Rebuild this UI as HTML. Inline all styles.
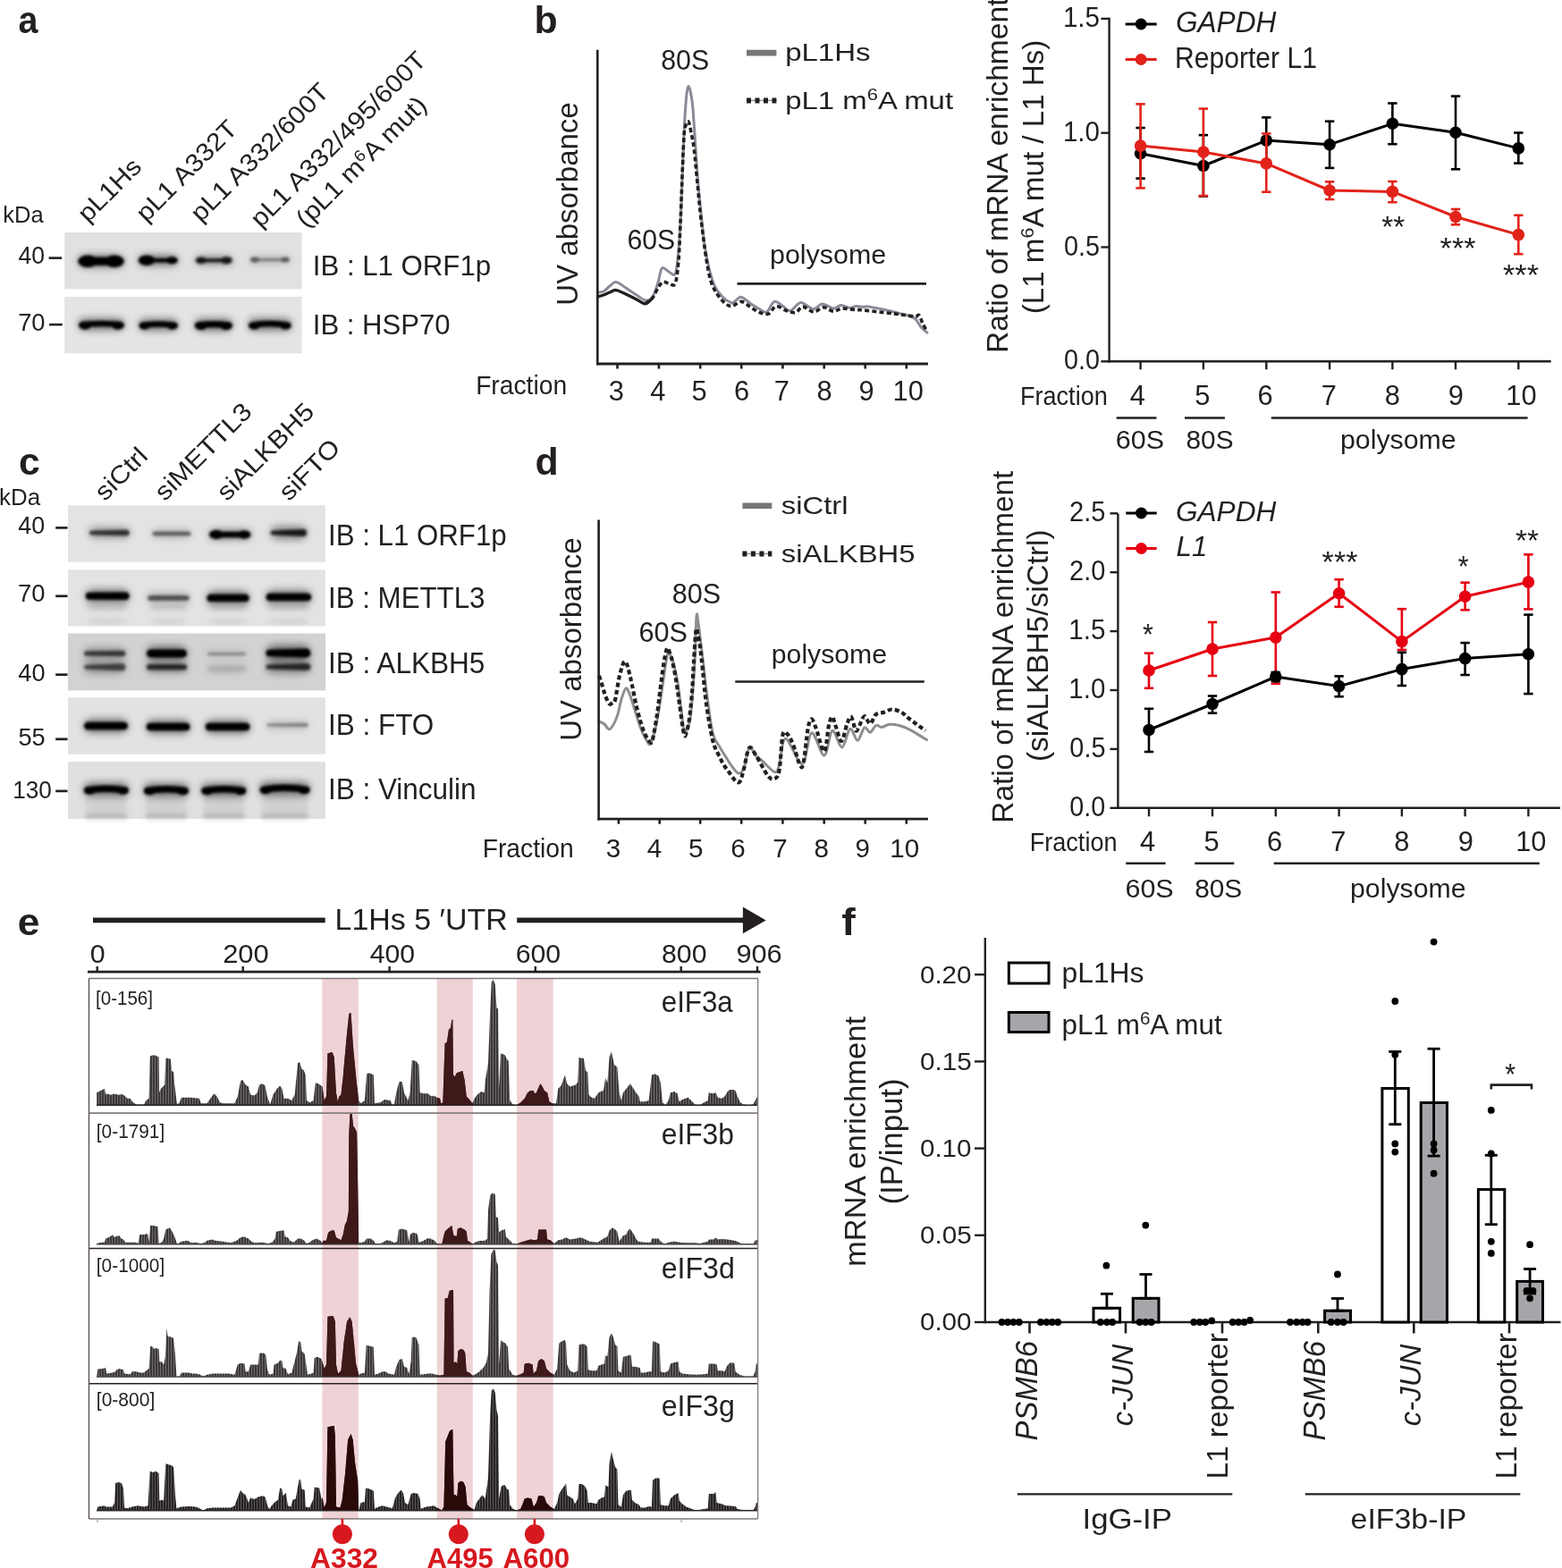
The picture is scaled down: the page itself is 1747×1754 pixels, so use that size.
<!DOCTYPE html>
<html><head><meta charset="utf-8"><title>Figure</title>
<style>html,body{margin:0;padding:0;background:#fff;}body{width:1747px;height:1754px;overflow:hidden;}</style>
</head><body><svg width="1747" height="1754" viewBox="0 0 1747 1754" style="display:block;font-family:&quot;Liberation Sans&quot;, Arial, sans-serif"><defs>
<filter id="bl2" x="-20%" y="-50%" width="140%" height="200%"><feGaussianBlur stdDeviation="1.6"/></filter>
<filter id="bl3" x="-20%" y="-80%" width="140%" height="260%"><feGaussianBlur stdDeviation="2.6"/></filter>
<filter id="bl5" x="-20%" y="-80%" width="140%" height="260%"><feGaussianBlur stdDeviation="4"/></filter>
<filter id="bl6" x="-30%" y="-150%" width="160%" height="400%"><feGaussianBlur stdDeviation="4.5"/></filter>
<pattern id="hat" width="3" height="10" patternUnits="userSpaceOnUse"><rect width="3" height="10" fill="#767272"/><rect width="2.1" height="10" fill="#3b3737"/></pattern>
<pattern id="hat4" width="3" height="10" patternUnits="userSpaceOnUse"><rect width="3" height="10" fill="#5f5c5c"/><rect width="2.1" height="10" fill="#272323"/></pattern>
<clipPath id="trk"><rect x="100" y="1095" width="747" height="604"/></clipPath>
</defs>
<text x="20.62" y="36.50" style="font-size:42.00px;font-weight:bold;" fill="#231f20" textLength="21.94" lengthAdjust="spacingAndGlyphs">a</text>
<text x="597.42" y="37.30" style="font-size:41.60px;font-weight:bold;" fill="#231f20" textLength="26.13" lengthAdjust="spacingAndGlyphs">b</text>
<text x="20.99" y="530.60" style="font-size:42.00px;font-weight:bold;" fill="#231f20" textLength="23.74" lengthAdjust="spacingAndGlyphs">c</text>
<text x="598.49" y="530.60" style="font-size:41.60px;font-weight:bold;" fill="#231f20" textLength="26.13" lengthAdjust="spacingAndGlyphs">d</text>
<text x="19.83" y="1045.60" style="font-size:42.00px;font-weight:bold;" fill="#231f20" textLength="24.68" lengthAdjust="spacingAndGlyphs">e</text>
<text x="941.20" y="1046.30" style="font-size:41.60px;font-weight:bold;" fill="#231f20" textLength="15.51" lengthAdjust="spacingAndGlyphs">f</text>
<text x="97.63" y="248.60" style="font-size:28.00px;" fill="#231f20" textLength="87.41" lengthAdjust="spacingAndGlyphs" transform="rotate(-45.00 99.60 248.60)">pL1Hs</text>
<text x="162.93" y="248.00" style="font-size:28.00px;" fill="#231f20" textLength="146.29" lengthAdjust="spacingAndGlyphs" transform="rotate(-45.00 164.90 248.00)">pL1 A332T</text>
<text x="224.03" y="248.00" style="font-size:28.00px;" fill="#231f20" textLength="205.15" lengthAdjust="spacingAndGlyphs" transform="rotate(-45.00 226.00 248.00)">pL1 A332/600T</text>
<text x="291.03" y="254.40" style="font-size:28.00px;" fill="#231f20" textLength="264.00" lengthAdjust="spacingAndGlyphs" transform="rotate(-45.00 293.00 254.40)">pL1 A332/495/600T</text>
<text x="341.73" y="254.50" style="font-size:28.00px;" fill="#231f20" textLength="193.37" lengthAdjust="spacingAndGlyphs" transform="rotate(-45.00 343.50 254.50)">(pL1 m<tspan dy="-9" style="font-size:18px">6</tspan><tspan dy="9">A mut)</tspan></text>
<text x="3.34" y="249.20" style="font-size:26.00px;" fill="#231f20" textLength="45.45" lengthAdjust="spacingAndGlyphs">kDa</text>
<rect x="72.20" y="260.10" width="265.30" height="63.30" fill="#e1e1e1"/>
<rect x="72.20" y="331.90" width="265.30" height="63.30" fill="#e4e4e4"/>
<g filter="url(#bl6)" opacity="0.50"><rect x="87.40" y="285.40" width="51.30" height="13.60" rx="6.80" fill="#000"/></g><g filter="url(#bl2)" opacity="1.00"><ellipse cx="98.28" cy="292.20" rx="10.88" ry="6.80" fill="#000"/><ellipse cx="127.82" cy="292.20" rx="10.88" ry="6.80" fill="#000"/><rect x="98.28" y="287.60" width="29.54" height="9.20" fill="#000"/></g>
<g filter="url(#bl6)" opacity="0.50"><rect x="154.80" y="285.40" width="44.00" height="11.60" rx="5.80" fill="#000"/></g><g filter="url(#bl2)" opacity="1.00"><ellipse cx="164.08" cy="291.20" rx="9.28" ry="5.80" fill="#000"/><ellipse cx="192.40" cy="291.20" rx="6.40" ry="4.00" fill="#000"/><rect x="164.08" y="289.00" width="28.32" height="4.40" fill="#000"/></g>
<g filter="url(#bl6)" opacity="0.47"><rect x="218.90" y="287.20" width="40.80" height="8.00" rx="4.00" fill="#111"/></g><g filter="url(#bl2)" opacity="0.95"><ellipse cx="224.98" cy="291.20" rx="6.08" ry="3.80" fill="#111"/><ellipse cx="253.30" cy="291.20" rx="6.40" ry="4.00" fill="#111"/><rect x="224.98" y="289.20" width="28.32" height="4.00" fill="#111"/></g>
<g filter="url(#bl6)" opacity="0.35"><rect x="279.80" y="287.40" width="44.10" height="6.40" rx="3.20" fill="#333"/></g><g filter="url(#bl2)" opacity="0.70"><ellipse cx="284.92" cy="290.60" rx="5.12" ry="3.20" fill="#333"/><ellipse cx="319.10" cy="290.60" rx="4.80" ry="3.00" fill="#333"/><rect x="284.92" y="289.60" width="34.18" height="2.00" fill="#333"/></g>
<g filter="url(#bl6)" opacity="0.50"><rect x="88.20" y="356.15" width="50.50" height="13.20" rx="5.85" fill="#000"/></g><g filter="url(#bl2)" opacity="1.00"><path d="M91.45 363.50 Q113.45 360.50 135.45 363.50" stroke="#000" stroke-width="6.50" fill="none" stroke-linecap="round"/><ellipse cx="94.95" cy="364.00" rx="6.75" ry="4.50" fill="#000"/><ellipse cx="131.95" cy="364.00" rx="6.75" ry="4.50" fill="#000"/></g>
<g filter="url(#bl6)" opacity="0.50"><rect x="155.60" y="356.65" width="43.20" height="13.20" rx="5.85" fill="#000"/></g><g filter="url(#bl2)" opacity="1.00"><path d="M158.85 364.00 Q177.20 361.00 195.55 364.00" stroke="#000" stroke-width="6.50" fill="none" stroke-linecap="round"/><ellipse cx="161.60" cy="364.50" rx="6.00" ry="4.00" fill="#000"/><ellipse cx="192.80" cy="364.50" rx="6.00" ry="4.00" fill="#000"/></g>
<g filter="url(#bl6)" opacity="0.50"><rect x="218.00" y="356.50" width="41.70" height="13.80" rx="6.30" fill="#000"/></g><g filter="url(#bl2)" opacity="1.00"><path d="M221.50 364.00 Q238.85 361.60 256.20 364.00" stroke="#000" stroke-width="7.00" fill="none" stroke-linecap="round"/><ellipse cx="224.75" cy="364.50" rx="6.75" ry="4.50" fill="#000"/><ellipse cx="252.95" cy="364.50" rx="6.75" ry="4.50" fill="#000"/></g>
<g filter="url(#bl6)" opacity="0.50"><rect x="278.20" y="356.15" width="47.30" height="13.70" rx="5.85" fill="#000"/></g><g filter="url(#bl2)" opacity="1.00"><path d="M281.45 364.00 Q301.85 360.00 322.25 364.00" stroke="#000" stroke-width="6.50" fill="none" stroke-linecap="round"/><ellipse cx="284.20" cy="364.50" rx="6.00" ry="4.00" fill="#000"/><ellipse cx="319.50" cy="364.50" rx="6.00" ry="4.00" fill="#000"/></g>
<text x="20.47" y="294.60" style="font-size:27.40px;" fill="#231f20" textLength="29.52" lengthAdjust="spacingAndGlyphs">40</text>
<line x1="54.60" y1="288.60" x2="69.20" y2="288.60" stroke="#231f20" stroke-width="2.60"/>
<text x="20.13" y="370.00" style="font-size:27.40px;" fill="#231f20" textLength="30.39" lengthAdjust="spacingAndGlyphs">70</text>
<line x1="55.00" y1="363.10" x2="69.70" y2="363.10" stroke="#231f20" stroke-width="2.60"/>
<text x="349.79" y="307.80" style="font-size:32.20px;" fill="#231f20" textLength="199.30" lengthAdjust="spacingAndGlyphs">IB : L1 ORF1p</text>
<text x="349.80" y="374.00" style="font-size:32.00px;" fill="#231f20" textLength="153.85" lengthAdjust="spacingAndGlyphs">IB : HSP70</text>
<text x="117.08" y="560.80" style="font-size:28.00px;" fill="#231f20" textLength="70.14" lengthAdjust="spacingAndGlyphs" transform="rotate(-45.00 118.00 560.80)">siCtrl</text>
<text x="183.98" y="560.80" style="font-size:28.00px;" fill="#231f20" textLength="140.33" lengthAdjust="spacingAndGlyphs" transform="rotate(-45.00 184.90 560.80)">siMETTL3</text>
<text x="253.58" y="560.80" style="font-size:28.00px;" fill="#231f20" textLength="140.38" lengthAdjust="spacingAndGlyphs" transform="rotate(-45.00 254.50 560.80)">siALKBH5</text>
<text x="323.08" y="560.80" style="font-size:28.00px;" fill="#231f20" textLength="83.27" lengthAdjust="spacingAndGlyphs" transform="rotate(-45.00 324.00 560.80)">siFTO</text>
<text x="-0.98" y="564.70" style="font-size:25.50px;" fill="#231f20" textLength="46.07" lengthAdjust="spacingAndGlyphs">kDa</text>
<rect x="76.00" y="565.20" width="288.00" height="63.50" fill="#e3e3e3"/>
<rect x="76.00" y="637.30" width="288.00" height="63.20" fill="#e3e3e3"/>
<rect x="76.00" y="708.50" width="288.00" height="63.90" fill="#d2d2d2"/>
<rect x="76.00" y="780.30" width="288.00" height="63.50" fill="#e2e2e2"/>
<rect x="76.00" y="852.10" width="288.00" height="63.90" fill="#e0e0e0"/>
<g filter="url(#bl6)" opacity="0.42"><rect x="100.00" y="590.15" width="44.70" height="11.70" rx="5.85" fill="#1a1a1a"/></g><g filter="url(#bl2)" opacity="0.85"><path d="M102.25 593.75 L141.45 592.75 A3.25 3.25 0 0 1 141.45 599.25 L102.25 598.25 A2.25 2.25 0 0 1 102.25 593.75 Z" fill="#1a1a1a"/></g>
<g filter="url(#bl6)" opacity="0.35"><rect x="170.50" y="592.95" width="42.90" height="8.10" rx="4.05" fill="#333"/></g><g filter="url(#bl2)" opacity="0.70"><path d="M172.75 594.75 L211.15 594.75 A2.25 2.25 0 0 1 211.15 599.25 L172.75 599.25 A2.25 2.25 0 0 1 172.75 594.75 Z" fill="#333"/></g>
<g filter="url(#bl6)" opacity="0.50"><rect x="234.00" y="593.00" width="46.40" height="10.00" rx="5.00" fill="#000"/></g><g filter="url(#bl2)" opacity="1.00"><ellipse cx="242.00" cy="598.00" rx="8.00" ry="5.00" fill="#000"/><ellipse cx="273.20" cy="598.00" rx="7.20" ry="4.50" fill="#000"/><rect x="242.00" y="594.80" width="31.20" height="6.40" fill="#000"/></g>
<g filter="url(#bl6)" opacity="0.45"><rect x="302.70" y="588.80" width="40.30" height="14.40" rx="7.20" fill="#111"/></g><g filter="url(#bl2)" opacity="0.90"><path d="M304.95 593.75 L339.00 592.00 A4.00 4.00 0 0 1 339.00 600.00 L304.95 598.25 A2.25 2.25 0 0 1 304.95 593.75 Z" fill="#111"/></g>
<g filter="url(#bl6)" opacity="0.50"><rect x="95.80" y="659.15" width="48.90" height="15.30" rx="7.65" fill="#000"/></g><g filter="url(#bl2)" opacity="1.00"><path d="M99.80 662.80 L140.45 662.55 A4.25 4.25 0 0 1 140.45 671.05 L99.80 670.80 A4.00 4.00 0 0 1 99.80 662.80 Z" fill="#000"/></g>
<g filter="url(#bl6)" opacity="0.35"><rect x="165.30" y="664.05" width="46.40" height="9.90" rx="4.95" fill="#222"/></g><g filter="url(#bl2)" opacity="0.70"><path d="M168.05 666.25 L208.95 666.25 A2.75 2.75 0 0 1 208.95 671.75 L168.05 671.75 A2.75 2.75 0 0 1 168.05 666.25 Z" fill="#222"/></g>
<g filter="url(#bl6)" opacity="0.50"><rect x="231.40" y="661.35" width="47.30" height="15.30" rx="7.65" fill="#000"/></g><g filter="url(#bl2)" opacity="1.00"><path d="M235.65 664.75 L274.45 664.75 A4.25 4.25 0 0 1 274.45 673.25 L235.65 673.25 A4.25 4.25 0 0 1 235.65 664.75 Z" fill="#000"/></g>
<g filter="url(#bl6)" opacity="0.50"><rect x="297.50" y="660.35" width="50.70" height="15.30" rx="7.65" fill="#000"/></g><g filter="url(#bl2)" opacity="1.00"><path d="M301.75 663.75 L343.95 663.75 A4.25 4.25 0 0 1 343.95 672.25 L301.75 672.25 A4.25 4.25 0 0 1 301.75 663.75 Z" fill="#000"/></g>
<g filter="url(#bl6)" opacity="0.17"><rect x="98.80" y="674.50" width="42.90" height="9.00" rx="4.50" fill="#999"/></g><g filter="url(#bl3)" opacity="0.35"><path d="M101.30 676.50 L139.20 676.50 A2.50 2.50 0 0 1 139.20 681.50 L101.30 681.50 A2.50 2.50 0 0 1 101.30 676.50 Z" fill="#999"/></g>
<g filter="url(#bl6)" opacity="0.12"><rect x="99.80" y="692.30" width="40.90" height="5.40" rx="2.70" fill="#999"/></g><g filter="url(#bl3)" opacity="0.25"><path d="M101.30 693.50 L139.20 693.50 A1.50 1.50 0 0 1 139.20 696.50 L101.30 696.50 A1.50 1.50 0 0 1 101.30 693.50 Z" fill="#999"/></g>
<g filter="url(#bl6)" opacity="0.17"><rect x="168.30" y="674.50" width="40.40" height="9.00" rx="4.50" fill="#999"/></g><g filter="url(#bl3)" opacity="0.35"><path d="M170.80 676.50 L206.20 676.50 A2.50 2.50 0 0 1 206.20 681.50 L170.80 681.50 A2.50 2.50 0 0 1 170.80 676.50 Z" fill="#999"/></g>
<g filter="url(#bl6)" opacity="0.12"><rect x="169.30" y="692.30" width="38.40" height="5.40" rx="2.70" fill="#999"/></g><g filter="url(#bl3)" opacity="0.25"><path d="M170.80 693.50 L206.20 693.50 A1.50 1.50 0 0 1 206.20 696.50 L170.80 696.50 A1.50 1.50 0 0 1 170.80 693.50 Z" fill="#999"/></g>
<g filter="url(#bl6)" opacity="0.17"><rect x="234.40" y="674.50" width="41.30" height="9.00" rx="4.50" fill="#999"/></g><g filter="url(#bl3)" opacity="0.35"><path d="M236.90 676.50 L273.20 676.50 A2.50 2.50 0 0 1 273.20 681.50 L236.90 681.50 A2.50 2.50 0 0 1 236.90 676.50 Z" fill="#999"/></g>
<g filter="url(#bl6)" opacity="0.12"><rect x="235.40" y="692.30" width="39.30" height="5.40" rx="2.70" fill="#999"/></g><g filter="url(#bl3)" opacity="0.25"><path d="M236.90 693.50 L273.20 693.50 A1.50 1.50 0 0 1 273.20 696.50 L236.90 696.50 A1.50 1.50 0 0 1 236.90 693.50 Z" fill="#999"/></g>
<g filter="url(#bl6)" opacity="0.17"><rect x="300.50" y="674.50" width="44.70" height="9.00" rx="4.50" fill="#999"/></g><g filter="url(#bl3)" opacity="0.35"><path d="M303.00 676.50 L342.70 676.50 A2.50 2.50 0 0 1 342.70 681.50 L303.00 681.50 A2.50 2.50 0 0 1 303.00 676.50 Z" fill="#999"/></g>
<g filter="url(#bl6)" opacity="0.12"><rect x="301.50" y="692.30" width="42.70" height="5.40" rx="2.70" fill="#999"/></g><g filter="url(#bl3)" opacity="0.25"><path d="M303.00 693.50 L342.70 693.50 A1.50 1.50 0 0 1 342.70 696.50 L303.00 696.50 A1.50 1.50 0 0 1 303.00 693.50 Z" fill="#999"/></g>
<g filter="url(#bl6)" opacity="0.40"><rect x="94.00" y="725.05" width="46.40" height="11.70" rx="5.85" fill="#222"/></g><g filter="url(#bl2)" opacity="0.80"><path d="M96.50 728.40 L137.15 727.65 A3.25 3.25 0 0 1 137.15 734.15 L96.50 733.40 A2.50 2.50 0 0 1 96.50 728.40 Z" fill="#222"/></g>
<g filter="url(#bl6)" opacity="0.38"><rect x="94.00" y="739.10" width="46.40" height="14.40" rx="7.20" fill="#222"/></g><g filter="url(#bl2)" opacity="0.75"><path d="M96.25 744.05 L136.40 742.30 A4.00 4.00 0 0 1 136.40 750.30 L96.25 748.55 A2.25 2.25 0 0 1 96.25 744.05 Z" fill="#222"/></g>
<g filter="url(#bl6)" opacity="0.50"><rect x="164.00" y="722.80" width="45.00" height="16.20" rx="8.10" fill="#000"/></g><g filter="url(#bl2)" opacity="1.00"><path d="M168.50 726.40 L204.50 726.40 A4.50 4.50 0 0 1 204.50 735.40 L168.50 735.40 A4.50 4.50 0 0 1 168.50 726.40 Z" fill="#000"/></g>
<g filter="url(#bl6)" opacity="0.40"><rect x="164.00" y="740.45" width="45.00" height="11.70" rx="5.85" fill="#111"/></g><g filter="url(#bl2)" opacity="0.80"><path d="M167.25 743.05 L205.75 743.05 A3.25 3.25 0 0 1 205.75 749.55 L167.25 749.55 A3.25 3.25 0 0 1 167.25 743.05 Z" fill="#111"/></g>
<g filter="url(#bl6)" opacity="0.25"><rect x="232.00" y="728.35" width="43.00" height="6.30" rx="3.15" fill="#555"/></g><g filter="url(#bl2)" opacity="0.50"><path d="M233.75 729.75 L273.25 729.75 A1.75 1.75 0 0 1 273.25 733.25 L233.75 733.25 A1.75 1.75 0 0 1 233.75 729.75 Z" fill="#555"/></g>
<g filter="url(#bl6)" opacity="0.17"><rect x="232.00" y="742.60" width="43.00" height="10.80" rx="5.40" fill="#777"/></g><g filter="url(#bl3)" opacity="0.35"><path d="M235.00 745.00 L272.00 745.00 A3.00 3.00 0 0 1 272.00 751.00 L235.00 751.00 A3.00 3.00 0 0 1 235.00 745.00 Z" fill="#777"/></g>
<g filter="url(#bl6)" opacity="0.50"><rect x="297.50" y="721.50" width="49.80" height="18.00" rx="9.00" fill="#000"/></g><g filter="url(#bl2)" opacity="1.00"><path d="M301.25 726.75 L342.30 725.50 A5.00 5.00 0 0 1 342.30 735.50 L301.25 734.25 A3.75 3.75 0 0 1 301.25 726.75 Z" fill="#000"/></g>
<g filter="url(#bl6)" opacity="0.40"><rect x="297.50" y="738.80" width="49.80" height="14.40" rx="7.20" fill="#111"/></g><g filter="url(#bl2)" opacity="0.80"><path d="M300.00 743.50 L343.30 742.00 A4.00 4.00 0 0 1 343.30 750.00 L300.00 748.50 A2.50 2.50 0 0 1 300.00 743.50 Z" fill="#111"/></g>
<g filter="url(#bl6)" opacity="0.50"><rect x="94.00" y="804.35" width="49.00" height="15.30" rx="7.65" fill="#000"/></g><g filter="url(#bl2)" opacity="1.00"><path d="M98.25 807.75 L138.75 807.75 A4.25 4.25 0 0 1 138.75 816.25 L98.25 816.25 A4.25 4.25 0 0 1 98.25 807.75 Z" fill="#000"/></g>
<g filter="url(#bl6)" opacity="0.50"><rect x="163.60" y="805.35" width="48.90" height="15.30" rx="7.65" fill="#000"/></g><g filter="url(#bl2)" opacity="1.00"><path d="M167.85 808.75 L208.25 808.75 A4.25 4.25 0 0 1 208.25 817.25 L167.85 817.25 A4.25 4.25 0 0 1 167.85 808.75 Z" fill="#000"/></g>
<g filter="url(#bl6)" opacity="0.50"><rect x="229.70" y="805.35" width="49.80" height="15.30" rx="7.65" fill="#000"/></g><g filter="url(#bl2)" opacity="1.00"><path d="M233.95 808.75 L275.25 808.75 A4.25 4.25 0 0 1 275.25 817.25 L233.95 817.25 A4.25 4.25 0 0 1 233.95 808.75 Z" fill="#000"/></g>
<g filter="url(#bl6)" opacity="0.30"><rect x="298.40" y="806.95" width="46.40" height="8.10" rx="4.05" fill="#555"/></g><g filter="url(#bl2)" opacity="0.60"><path d="M299.90 809.50 L342.55 808.75 A2.25 2.25 0 0 1 342.55 813.25 L299.90 812.50 A1.50 1.50 0 0 1 299.90 809.50 Z" fill="#555"/></g>
<rect x="96.00" y="890.00" width="45.80" height="26.00" fill="#c8c8c8" filter="url(#bl3)" opacity="0.6"/>
<g filter="url(#bl6)" opacity="0.25"><rect x="96.00" y="908.90" width="45.80" height="7.20" rx="3.60" fill="#aaa"/></g><g filter="url(#bl2)" opacity="0.50"><path d="M98.00 910.50 L139.80 910.50 A2.00 2.00 0 0 1 139.80 914.50 L98.00 914.50 A2.00 2.00 0 0 1 98.00 910.50 Z" fill="#aaa"/></g>
<rect x="163.00" y="890.00" width="45.80" height="26.00" fill="#c8c8c8" filter="url(#bl3)" opacity="0.6"/>
<g filter="url(#bl6)" opacity="0.25"><rect x="163.00" y="908.90" width="45.80" height="7.20" rx="3.60" fill="#aaa"/></g><g filter="url(#bl2)" opacity="0.50"><path d="M165.00 910.50 L206.80 910.50 A2.00 2.00 0 0 1 206.80 914.50 L165.00 914.50 A2.00 2.00 0 0 1 165.00 910.50 Z" fill="#aaa"/></g>
<rect x="227.40" y="890.00" width="45.80" height="26.00" fill="#c8c8c8" filter="url(#bl3)" opacity="0.6"/>
<g filter="url(#bl6)" opacity="0.25"><rect x="227.40" y="908.90" width="45.80" height="7.20" rx="3.60" fill="#aaa"/></g><g filter="url(#bl2)" opacity="0.50"><path d="M229.40 910.50 L271.20 910.50 A2.00 2.00 0 0 1 271.20 914.50 L229.40 914.50 A2.00 2.00 0 0 1 229.40 910.50 Z" fill="#aaa"/></g>
<rect x="292.70" y="890.00" width="51.80" height="26.00" fill="#c8c8c8" filter="url(#bl3)" opacity="0.6"/>
<g filter="url(#bl6)" opacity="0.25"><rect x="292.70" y="908.90" width="51.80" height="7.20" rx="3.60" fill="#aaa"/></g><g filter="url(#bl2)" opacity="0.50"><path d="M294.70 910.50 L342.50 910.50 A2.00 2.00 0 0 1 342.50 914.50 L294.70 914.50 A2.00 2.00 0 0 1 294.70 910.50 Z" fill="#aaa"/></g>
<g filter="url(#bl6)" opacity="0.50"><rect x="94.00" y="875.45" width="49.80" height="15.30" rx="6.75" fill="#000"/></g><g filter="url(#bl2)" opacity="1.00"><path d="M97.75 884.00 Q118.90 880.40 140.05 884.00" stroke="#000" stroke-width="7.50" fill="none" stroke-linecap="round"/><ellipse cx="100.30" cy="884.50" rx="6.30" ry="4.20" fill="#000"/><ellipse cx="137.50" cy="884.50" rx="6.30" ry="4.20" fill="#000"/></g>
<g filter="url(#bl6)" opacity="0.50"><rect x="161.00" y="875.95" width="49.80" height="15.30" rx="6.75" fill="#000"/></g><g filter="url(#bl2)" opacity="1.00"><path d="M164.75 884.50 Q185.90 880.90 207.05 884.50" stroke="#000" stroke-width="7.50" fill="none" stroke-linecap="round"/><ellipse cx="167.30" cy="885.00" rx="6.30" ry="4.20" fill="#000"/><ellipse cx="204.50" cy="885.00" rx="6.30" ry="4.20" fill="#000"/></g>
<g filter="url(#bl6)" opacity="0.50"><rect x="225.40" y="875.95" width="49.80" height="15.30" rx="6.75" fill="#000"/></g><g filter="url(#bl2)" opacity="1.00"><path d="M229.15 884.50 Q250.30 880.90 271.45 884.50" stroke="#000" stroke-width="7.50" fill="none" stroke-linecap="round"/><ellipse cx="231.70" cy="885.00" rx="6.30" ry="4.20" fill="#000"/><ellipse cx="268.90" cy="885.00" rx="6.30" ry="4.20" fill="#000"/></g>
<g filter="url(#bl6)" opacity="0.50"><rect x="290.70" y="874.55" width="55.80" height="15.70" rx="6.75" fill="#000"/></g><g filter="url(#bl2)" opacity="1.00"><path d="M294.45 883.50 Q318.60 879.10 342.75 883.50" stroke="#000" stroke-width="7.50" fill="none" stroke-linecap="round"/><ellipse cx="297.00" cy="884.00" rx="6.30" ry="4.20" fill="#000"/><ellipse cx="340.20" cy="884.00" rx="6.30" ry="4.20" fill="#000"/></g>
<text x="20.36" y="597.10" style="font-size:26.80px;" fill="#231f20" textLength="29.94" lengthAdjust="spacingAndGlyphs">40</text>
<line x1="62.20" y1="590.40" x2="75.50" y2="590.40" stroke="#231f20" stroke-width="2.70"/>
<text x="20.13" y="673.00" style="font-size:26.80px;" fill="#231f20" textLength="30.39" lengthAdjust="spacingAndGlyphs">70</text>
<line x1="62.20" y1="666.80" x2="75.50" y2="666.80" stroke="#231f20" stroke-width="2.70"/>
<text x="20.26" y="762.30" style="font-size:26.80px;" fill="#231f20" textLength="30.26" lengthAdjust="spacingAndGlyphs">40</text>
<line x1="62.20" y1="754.70" x2="75.50" y2="754.70" stroke="#231f20" stroke-width="2.70"/>
<text x="20.41" y="834.20" style="font-size:26.80px;" fill="#231f20" textLength="30.24" lengthAdjust="spacingAndGlyphs">55</text>
<line x1="62.20" y1="826.80" x2="75.50" y2="826.80" stroke="#231f20" stroke-width="2.70"/>
<text x="14.24" y="892.60" style="font-size:26.80px;" fill="#231f20" textLength="43.67" lengthAdjust="spacingAndGlyphs">130</text>
<line x1="62.20" y1="884.90" x2="75.50" y2="884.90" stroke="#231f20" stroke-width="2.70"/>
<text x="366.99" y="609.70" style="font-size:32.50px;" fill="#231f20" textLength="199.71" lengthAdjust="spacingAndGlyphs">IB : L1 ORF1p</text>
<text x="366.99" y="680.10" style="font-size:32.50px;" fill="#231f20" textLength="175.54" lengthAdjust="spacingAndGlyphs">IB : METTL3</text>
<text x="366.96" y="752.50" style="font-size:32.50px;" fill="#231f20" textLength="175.46" lengthAdjust="spacingAndGlyphs">IB : ALKBH5</text>
<text x="366.97" y="822.20" style="font-size:32.50px;" fill="#231f20" textLength="118.30" lengthAdjust="spacingAndGlyphs">IB : FTO</text>
<text x="366.97" y="893.60" style="font-size:32.50px;" fill="#231f20" textLength="165.65" lengthAdjust="spacingAndGlyphs">IB : Vinculin</text>
<path d="M668.50 327.00 C669.58 326.83 672.75 327.17 675.00 326.00 C677.25 324.83 679.67 321.75 682.00 320.00 C684.33 318.25 686.00 315.17 689.00 315.50 C692.00 315.83 696.17 319.58 700.00 322.00 C703.83 324.42 708.33 327.67 712.00 330.00 C715.67 332.33 719.00 335.67 722.00 336.00 C725.00 336.33 727.67 335.33 730.00 332.00 C732.33 328.67 734.27 321.33 736.00 316.00 C737.73 310.67 738.40 302.00 740.40 300.00 C742.40 298.00 745.57 302.88 748.00 304.00 C750.43 305.12 753.33 309.03 755.00 306.70 C756.67 304.37 757.03 298.72 758.00 290.00 C758.97 281.28 759.97 269.40 760.80 254.40 C761.63 239.40 762.20 219.40 763.00 200.00 C763.80 180.60 764.77 153.83 765.60 138.00 C766.43 122.17 767.27 111.92 768.00 105.00 C768.73 98.08 769.25 96.67 770.00 96.50 C770.75 96.33 771.72 100.28 772.50 104.00 C773.28 107.72 773.95 111.13 774.70 118.80 C775.45 126.47 776.12 137.13 777.00 150.00 C777.88 162.87 778.83 181.33 780.00 196.00 C781.17 210.67 782.67 225.03 784.00 238.00 C785.33 250.97 786.50 263.47 788.00 273.80 C789.50 284.13 791.08 292.25 793.00 300.00 C794.92 307.75 797.00 314.97 799.50 320.30 C802.00 325.63 804.92 328.93 808.00 332.00 C811.08 335.07 815.67 337.87 818.00 338.70 C820.33 339.53 820.17 338.08 822.00 337.00 C823.83 335.92 826.00 331.70 829.00 332.20 C832.00 332.70 836.50 337.70 840.00 340.00 C843.50 342.30 847.08 344.50 850.00 346.00 C852.92 347.50 854.83 350.43 857.50 349.00 C860.17 347.57 863.08 338.57 866.00 337.40 C868.92 336.23 872.00 340.28 875.00 342.00 C878.00 343.72 880.58 348.27 884.00 347.70 C887.42 347.13 891.23 338.93 895.50 338.60 C899.77 338.27 905.58 345.47 909.60 345.70 C913.62 345.93 915.87 340.12 919.60 340.00 C923.33 339.88 928.52 344.75 932.00 345.00 C935.48 345.25 937.33 341.60 940.50 341.50 C943.67 341.40 948.15 344.23 951.00 344.40 C953.85 344.57 955.10 342.65 957.60 342.50 C960.10 342.35 963.85 343.43 966.00 343.50 C968.15 343.57 967.17 342.53 970.50 342.90 C973.83 343.27 981.08 344.68 986.00 345.70 C990.92 346.72 995.67 347.95 1000.00 349.00 C1004.33 350.05 1008.17 350.83 1012.00 352.00 C1015.83 353.17 1020.00 353.72 1023.00 356.00 C1026.00 358.28 1027.67 363.02 1030.00 365.70 C1032.33 368.38 1035.83 371.03 1037.00 372.10" stroke="#8a8a98" stroke-width="3.00" fill="none" stroke-linejoin="round" stroke-linecap="round"/>
<path d="M668.50 332.00 C669.58 331.67 672.75 330.83 675.00 330.00 C677.25 329.17 679.67 327.90 682.00 327.00 C684.33 326.10 686.00 324.27 689.00 324.60 C692.00 324.93 696.17 327.27 700.00 329.00 C703.83 330.73 708.33 333.22 712.00 335.00 C715.67 336.78 719.00 340.03 722.00 339.70 C725.00 339.37 728.67 334.12 730.00 333.00" stroke="#231f20" stroke-width="3.40" fill="none" stroke-linejoin="round" stroke-linecap="round"/>
<path d="M722.00 339.70 C723.33 338.58 727.67 335.95 730.00 333.00 C732.33 330.05 734.10 324.92 736.00 322.00 C737.90 319.08 739.40 316.33 741.40 315.50 C743.40 314.67 745.73 316.68 748.00 317.00 C750.27 317.32 753.20 321.40 755.00 317.40 C756.80 313.40 757.80 304.23 758.80 293.00 C759.80 281.77 760.02 272.58 761.00 250.00 C761.98 227.42 763.70 175.83 764.70 157.50 C765.70 139.17 766.12 143.55 767.00 140.00 C767.88 136.45 769.00 134.87 770.00 136.20 C771.00 137.53 771.95 142.83 773.00 148.00 C774.05 153.17 775.13 157.70 776.30 167.20 C777.47 176.70 778.72 192.08 780.00 205.00 C781.28 217.92 782.33 230.53 784.00 244.70 C785.67 258.87 788.05 278.05 790.00 290.00 C791.95 301.95 793.20 309.23 795.70 316.40 C798.20 323.57 801.45 328.63 805.00 333.00 C808.55 337.37 813.00 341.87 817.00 342.60 C821.00 343.33 825.17 337.17 829.00 337.40 C832.83 337.63 836.50 341.97 840.00 344.00 C843.50 346.03 846.67 348.45 850.00 349.60 C853.33 350.75 857.00 352.08 860.00 350.90 C863.00 349.72 864.67 343.03 868.00 342.50 C871.33 341.97 876.33 346.52 880.00 347.70 C883.67 348.88 887.00 350.37 890.00 349.60 C893.00 348.83 894.67 343.20 898.00 343.10 C901.33 343.00 906.17 348.88 910.00 349.00 C913.83 349.12 917.33 343.92 921.00 343.80 C924.67 343.68 928.50 348.10 932.00 348.30 C935.50 348.50 938.17 345.32 942.00 345.00 C945.83 344.68 951.00 346.07 955.00 346.40 C959.00 346.73 961.33 346.57 966.00 347.00 C970.67 347.43 977.33 348.35 983.00 349.00 C988.67 349.65 995.17 350.32 1000.00 350.90 C1004.83 351.48 1008.00 351.98 1012.00 352.50 C1016.00 353.02 1021.33 353.95 1024.00 354.00 C1026.67 354.05 1026.67 351.47 1028.00 352.80 C1029.33 354.13 1030.50 359.00 1032.00 362.00 C1033.50 365.00 1036.17 369.33 1037.00 370.80" stroke="#231f20" stroke-width="3.60" fill="none" stroke-linejoin="round" stroke-dasharray="5 3.2"/>
<line x1="668.30" y1="55.80" x2="668.30" y2="408.30" stroke="#231f20" stroke-width="2.60"/>
<line x1="667.00" y1="407.00" x2="1037.90" y2="407.00" stroke="#231f20" stroke-width="2.80"/>
<line x1="690.50" y1="407.00" x2="690.50" y2="412.50" stroke="#231f20" stroke-width="2.60"/>
<line x1="736.90" y1="407.00" x2="736.90" y2="412.50" stroke="#231f20" stroke-width="2.60"/>
<line x1="783.20" y1="407.00" x2="783.20" y2="412.50" stroke="#231f20" stroke-width="2.60"/>
<line x1="829.20" y1="407.00" x2="829.20" y2="412.50" stroke="#231f20" stroke-width="2.60"/>
<line x1="875.40" y1="407.00" x2="875.40" y2="412.50" stroke="#231f20" stroke-width="2.60"/>
<line x1="921.70" y1="407.00" x2="921.70" y2="412.50" stroke="#231f20" stroke-width="2.60"/>
<line x1="967.70" y1="407.00" x2="967.70" y2="412.50" stroke="#231f20" stroke-width="2.60"/>
<line x1="1013.80" y1="407.00" x2="1013.80" y2="412.50" stroke="#231f20" stroke-width="2.60"/>
<text x="680.73" y="448.40" style="font-size:31.50px;" fill="#231f20" textLength="17.17" lengthAdjust="spacingAndGlyphs">3</text>
<text x="727.29" y="448.40" style="font-size:31.50px;" fill="#231f20" textLength="17.17" lengthAdjust="spacingAndGlyphs">4</text>
<text x="773.43" y="448.40" style="font-size:31.50px;" fill="#231f20" textLength="17.17" lengthAdjust="spacingAndGlyphs">5</text>
<text x="820.88" y="448.40" style="font-size:31.50px;" fill="#231f20" textLength="17.17" lengthAdjust="spacingAndGlyphs">6</text>
<text x="865.63" y="448.40" style="font-size:31.50px;" fill="#231f20" textLength="17.17" lengthAdjust="spacingAndGlyphs">7</text>
<text x="913.46" y="448.40" style="font-size:31.50px;" fill="#231f20" textLength="17.17" lengthAdjust="spacingAndGlyphs">8</text>
<text x="960.43" y="448.40" style="font-size:31.50px;" fill="#231f20" textLength="17.17" lengthAdjust="spacingAndGlyphs">9</text>
<text x="998.55" y="448.40" style="font-size:31.50px;" fill="#231f20" textLength="34.34" lengthAdjust="spacingAndGlyphs">10</text>
<text x="532.14" y="440.70" style="font-size:29.60px;" fill="#231f20" textLength="101.96" lengthAdjust="spacingAndGlyphs">Fraction</text>
<text transform="rotate(-90)" x="-341.67" y="646.40" style="font-size:32.40px;" fill="#231f20" textLength="227.37" lengthAdjust="spacingAndGlyphs">UV absorbance</text>
<line x1="835.00" y1="59.10" x2="868.40" y2="59.10" stroke="#777777" stroke-width="6.60"/>
<line x1="835.00" y1="112.40" x2="868.40" y2="112.40" stroke="#8a8a8a" stroke-width="1.20"/>
<line x1="835.00" y1="112.40" x2="868.40" y2="112.40" stroke="#231f20" stroke-width="6.00" stroke-dasharray="5 4.5"/>
<text x="878.15" y="68.10" style="font-size:27.00px;" fill="#231f20" textLength="95.42" lengthAdjust="spacingAndGlyphs">pL1Hs</text>
<text x="878.23" y="121.70" style="font-size:27.00px;" fill="#231f20" textLength="187.80" lengthAdjust="spacingAndGlyphs">pL1 m<tspan dy="-10" style="font-size:18px">6</tspan><tspan dy="10">A mut</tspan></text>
<text x="739.24" y="77.80" style="font-size:31.00px;" fill="#231f20" textLength="53.96" lengthAdjust="spacingAndGlyphs">80S</text>
<text x="701.49" y="279.00" style="font-size:31.00px;" fill="#231f20" textLength="53.70" lengthAdjust="spacingAndGlyphs">60S</text>
<text x="861.02" y="294.80" style="font-size:30.00px;" fill="#231f20" textLength="130.14" lengthAdjust="spacingAndGlyphs">polysome</text>
<line x1="824.50" y1="317.40" x2="1036.00" y2="317.40" stroke="#231f20" stroke-width="2.60"/>
<path d="M670.00 806.80 C671.00 807.33 674.00 808.53 676.00 810.00 C678.00 811.47 679.67 816.93 682.00 815.60 C684.33 814.27 687.83 807.60 690.00 802.00 C692.17 796.40 693.33 787.33 695.00 782.00 C696.67 776.67 698.50 771.00 700.00 770.00 C701.50 769.00 702.67 773.05 704.00 776.00 C705.33 778.95 706.00 781.53 708.00 787.70 C710.00 793.87 713.67 806.62 716.00 813.00 C718.33 819.38 720.08 822.77 722.00 826.00 C723.92 829.23 725.67 834.23 727.50 832.40 C729.33 830.57 731.25 822.45 733.00 815.00 C734.75 807.55 736.50 796.87 738.00 787.70 C739.50 778.53 740.83 767.95 742.00 760.00 C743.17 752.05 744.17 744.83 745.00 740.00 C745.83 735.17 746.17 732.17 747.00 731.00 C747.83 729.83 748.83 730.67 750.00 733.00 C751.17 735.33 752.67 739.88 754.00 745.00 C755.33 750.12 756.67 755.37 758.00 763.70 C759.33 772.03 760.83 785.95 762.00 795.00 C763.17 804.05 764.00 814.50 765.00 818.00 C766.00 821.50 766.83 818.38 768.00 816.00 C769.17 813.62 770.83 811.37 772.00 803.70 C773.17 796.03 774.17 780.65 775.00 770.00 C775.83 759.35 776.33 753.22 777.00 739.80 C777.67 726.38 778.33 696.63 779.00 689.50 C779.67 682.37 780.17 691.80 781.00 697.00 C781.83 702.20 783.00 712.70 784.00 720.70 C785.00 728.70 786.00 736.50 787.00 745.00 C788.00 753.50 788.33 759.27 790.00 771.70 C791.67 784.13 794.50 808.95 797.00 819.60 C799.50 830.25 802.50 831.03 805.00 835.60 C807.50 840.17 809.83 843.55 812.00 847.00 C814.17 850.45 815.67 853.30 818.00 856.30 C820.33 859.30 823.67 864.47 826.00 865.00 C828.33 865.53 830.00 864.23 832.00 859.50 C834.00 854.77 835.70 838.92 838.00 836.60 C840.30 834.28 843.43 843.23 845.80 845.60 C848.17 847.97 848.77 847.80 852.20 850.80 C855.63 853.80 863.18 862.75 866.40 863.60 C869.62 864.45 869.47 862.12 871.50 855.90 C873.53 849.68 874.30 826.52 878.60 826.30 C882.90 826.08 892.47 855.67 897.30 854.60 C902.13 853.53 903.52 821.50 907.60 819.90 C911.68 818.30 917.93 845.43 921.80 845.00 C925.67 844.57 927.48 818.80 930.80 817.30 C934.12 815.80 938.38 836.33 941.70 836.00 C945.02 835.67 947.80 816.60 950.70 815.30 C953.60 814.00 956.42 828.42 959.10 828.20 C961.78 827.98 964.43 815.50 966.80 814.00 C969.17 812.50 971.15 819.62 973.30 819.20 C975.45 818.78 977.57 812.47 979.70 811.50 C981.83 810.53 983.52 813.62 986.10 813.40 C988.68 813.18 991.97 810.52 995.20 810.20 C998.43 809.88 1002.07 810.65 1005.50 811.50 C1008.93 812.35 1012.38 813.70 1015.80 815.30 C1019.22 816.90 1022.57 819.05 1026.00 821.10 C1029.43 823.15 1034.67 826.52 1036.40 827.60" stroke="#8e8e8e" stroke-width="3.00" fill="none" stroke-linejoin="round" stroke-linecap="round"/>
<path d="M670.00 755.80 C670.50 757.33 672.00 761.80 673.00 765.00 C674.00 768.20 675.00 772.00 676.00 775.00 C677.00 778.00 678.00 780.88 679.00 783.00 C680.00 785.12 681.00 787.20 682.00 787.70 C683.00 788.20 684.00 786.80 685.00 786.00 C686.00 785.20 686.67 787.93 688.00 782.90 C689.33 777.87 691.17 762.98 693.00 755.80 C694.83 748.62 697.00 739.53 699.00 739.80 C701.00 740.07 702.83 748.88 705.00 757.40 C707.17 765.92 709.50 780.80 712.00 790.90 C714.50 801.00 717.33 811.35 720.00 818.00 C722.67 824.65 726.17 830.13 728.00 830.80 C729.83 831.47 729.83 827.32 731.00 822.00 C732.17 816.68 733.83 806.73 735.00 798.90 C736.17 791.07 736.83 784.05 738.00 775.00 C739.17 765.95 740.67 752.87 742.00 744.60 C743.33 736.33 744.83 727.83 746.00 725.40 C747.17 722.97 748.00 727.60 749.00 730.00 C750.00 732.40 750.83 734.80 752.00 739.80 C753.17 744.80 754.67 752.02 756.00 760.00 C757.33 767.98 758.50 777.50 760.00 787.70 C761.50 797.90 763.67 816.15 765.00 821.20 C766.33 826.25 767.00 820.92 768.00 818.00 C769.00 815.08 770.00 810.87 771.00 803.70 C772.00 796.53 773.17 785.65 774.00 775.00 C774.83 764.35 775.25 751.52 776.00 739.80 C776.75 728.08 777.75 709.67 778.50 704.70 C779.25 699.73 779.75 706.82 780.50 710.00 C781.25 713.18 782.08 717.13 783.00 723.80 C783.92 730.47 784.83 739.35 786.00 750.00 C787.17 760.65 788.17 774.77 790.00 787.70 C791.83 800.63 794.83 818.38 797.00 827.60 C799.17 836.82 800.83 838.22 803.00 843.00 C805.17 847.78 807.67 852.47 810.00 856.30 C812.33 860.13 814.83 863.07 817.00 866.00 C819.17 868.93 821.22 872.57 823.00 873.90 C824.78 875.23 826.20 876.32 827.70 874.00 C829.20 871.68 830.28 866.23 832.00 860.00 C833.72 853.77 835.70 839.00 838.00 836.60 C840.30 834.20 842.37 840.45 845.80 845.60 C849.23 850.75 855.28 863.20 858.60 867.50 C861.92 871.80 863.55 872.25 865.70 871.40 C867.85 870.55 869.88 870.57 871.50 862.40 C873.12 854.23 873.90 829.28 875.40 822.40 C876.90 815.52 878.57 819.38 880.50 821.10 C882.43 822.82 884.63 826.90 887.00 832.70 C889.37 838.50 892.77 852.47 894.70 855.90 C896.63 859.33 897.10 860.17 898.60 853.30 C900.10 846.43 902.20 822.85 903.70 814.70 C905.20 806.55 906.10 804.40 907.60 804.40 C909.10 804.40 910.33 808.68 912.70 814.70 C915.07 820.72 919.43 840.93 921.80 840.50 C924.17 840.07 925.40 818.55 926.90 812.10 C928.40 805.65 929.52 801.80 930.80 801.80 C932.08 801.80 932.88 807.58 934.60 812.10 C936.32 816.62 938.95 829.32 941.10 828.90 C943.25 828.48 945.68 814.12 947.50 809.60 C949.32 805.08 950.38 800.52 952.00 801.80 C953.62 803.08 955.70 815.58 957.20 817.30 C958.70 819.02 959.40 814.78 961.00 812.10 C962.60 809.42 964.75 801.62 966.80 801.20 C968.85 800.78 971.15 809.93 973.30 809.60 C975.45 809.27 977.13 801.35 979.70 799.20 C982.27 797.05 985.70 797.65 988.70 796.70 C991.70 795.75 994.48 793.50 997.70 793.50 C1000.92 793.50 1004.98 795.10 1008.00 796.70 C1011.02 798.30 1012.80 800.75 1015.80 803.10 C1018.80 805.45 1022.78 808.43 1026.00 810.80 C1029.22 813.17 1033.58 816.22 1035.10 817.30" stroke="#231f20" stroke-width="4.20" fill="none" stroke-linejoin="round" stroke-dasharray="5 3.2"/>
<line x1="669.60" y1="581.60" x2="669.60" y2="917.50" stroke="#231f20" stroke-width="2.60"/>
<line x1="668.30" y1="916.20" x2="1037.90" y2="916.20" stroke="#231f20" stroke-width="2.80"/>
<line x1="691.90" y1="916.20" x2="691.90" y2="921.70" stroke="#231f20" stroke-width="2.60"/>
<line x1="737.70" y1="916.20" x2="737.70" y2="921.70" stroke="#231f20" stroke-width="2.60"/>
<line x1="783.20" y1="916.20" x2="783.20" y2="921.70" stroke="#231f20" stroke-width="2.60"/>
<line x1="829.20" y1="916.20" x2="829.20" y2="921.70" stroke="#231f20" stroke-width="2.60"/>
<line x1="875.40" y1="916.20" x2="875.40" y2="921.70" stroke="#231f20" stroke-width="2.60"/>
<line x1="921.70" y1="916.20" x2="921.70" y2="921.70" stroke="#231f20" stroke-width="2.60"/>
<line x1="967.70" y1="916.20" x2="967.70" y2="921.70" stroke="#231f20" stroke-width="2.60"/>
<line x1="1013.80" y1="916.20" x2="1013.80" y2="921.70" stroke="#231f20" stroke-width="2.60"/>
<text x="677.69" y="959.40" style="font-size:30.20px;" fill="#231f20" textLength="16.46" lengthAdjust="spacingAndGlyphs">3</text>
<text x="723.64" y="959.40" style="font-size:30.20px;" fill="#231f20" textLength="16.46" lengthAdjust="spacingAndGlyphs">4</text>
<text x="769.99" y="959.40" style="font-size:30.20px;" fill="#231f20" textLength="16.46" lengthAdjust="spacingAndGlyphs">5</text>
<text x="817.34" y="959.40" style="font-size:30.20px;" fill="#231f20" textLength="16.46" lengthAdjust="spacingAndGlyphs">6</text>
<text x="864.19" y="959.40" style="font-size:30.20px;" fill="#231f20" textLength="16.46" lengthAdjust="spacingAndGlyphs">7</text>
<text x="910.41" y="959.40" style="font-size:30.20px;" fill="#231f20" textLength="16.46" lengthAdjust="spacingAndGlyphs">8</text>
<text x="956.49" y="959.40" style="font-size:30.20px;" fill="#231f20" textLength="16.46" lengthAdjust="spacingAndGlyphs">9</text>
<text x="995.18" y="959.40" style="font-size:30.20px;" fill="#231f20" textLength="32.92" lengthAdjust="spacingAndGlyphs">10</text>
<text x="539.74" y="959.40" style="font-size:29.60px;" fill="#231f20" textLength="101.96" lengthAdjust="spacingAndGlyphs">Fraction</text>
<text transform="rotate(-90)" x="-828.77" y="650.10" style="font-size:32.40px;" fill="#231f20" textLength="227.37" lengthAdjust="spacingAndGlyphs">UV absorbance</text>
<line x1="830.40" y1="565.80" x2="863.30" y2="565.80" stroke="#777777" stroke-width="6.60"/>
<line x1="830.40" y1="619.40" x2="863.30" y2="619.40" stroke="#8a8a8a" stroke-width="1.20"/>
<line x1="830.40" y1="619.40" x2="863.30" y2="619.40" stroke="#231f20" stroke-width="6.00" stroke-dasharray="5 4.5"/>
<text x="873.81" y="575.00" style="font-size:28.50px;" fill="#231f20" textLength="74.80" lengthAdjust="spacingAndGlyphs">siCtrl</text>
<text x="873.81" y="628.80" style="font-size:28.50px;" fill="#231f20" textLength="149.79" lengthAdjust="spacingAndGlyphs">siALKBH5</text>
<text x="751.82" y="674.60" style="font-size:31.00px;" fill="#231f20" textLength="54.38" lengthAdjust="spacingAndGlyphs">80S</text>
<text x="714.47" y="717.50" style="font-size:31.00px;" fill="#231f20" textLength="54.55" lengthAdjust="spacingAndGlyphs">60S</text>
<text x="862.84" y="741.90" style="font-size:30.00px;" fill="#231f20" textLength="129.22" lengthAdjust="spacingAndGlyphs">polysome</text>
<line x1="822.30" y1="762.50" x2="1033.80" y2="762.50" stroke="#231f20" stroke-width="2.60"/>
<line x1="1240.60" y1="19.80" x2="1240.60" y2="405.50" stroke="#231f20" stroke-width="2.40"/>
<line x1="1239.40" y1="404.30" x2="1734.70" y2="404.30" stroke="#231f20" stroke-width="2.40"/>
<line x1="1231.40" y1="404.30" x2="1240.60" y2="404.30" stroke="#231f20" stroke-width="2.40"/>
<text x="1189.95" y="413.40" style="font-size:31.20px;" fill="#231f20" textLength="39.96" lengthAdjust="spacingAndGlyphs">0.0</text>
<line x1="1231.40" y1="276.50" x2="1240.60" y2="276.50" stroke="#231f20" stroke-width="2.40"/>
<text x="1189.95" y="285.60" style="font-size:31.20px;" fill="#231f20" textLength="40.11" lengthAdjust="spacingAndGlyphs">0.5</text>
<line x1="1231.40" y1="148.70" x2="1240.60" y2="148.70" stroke="#231f20" stroke-width="2.40"/>
<text x="1188.89" y="157.80" style="font-size:31.20px;" fill="#231f20" textLength="41.05" lengthAdjust="spacingAndGlyphs">1.0</text>
<line x1="1231.40" y1="20.90" x2="1240.60" y2="20.90" stroke="#231f20" stroke-width="2.40"/>
<text x="1188.88" y="30.00" style="font-size:31.20px;" fill="#231f20" textLength="41.21" lengthAdjust="spacingAndGlyphs">1.5</text>
<line x1="1275.60" y1="404.30" x2="1275.60" y2="413.30" stroke="#231f20" stroke-width="2.40"/>
<text x="1263.69" y="452.90" style="font-size:31.50px;" fill="#231f20" textLength="17.17" lengthAdjust="spacingAndGlyphs">4</text>
<line x1="1345.90" y1="404.30" x2="1345.90" y2="413.30" stroke="#231f20" stroke-width="2.40"/>
<text x="1336.13" y="452.90" style="font-size:31.50px;" fill="#231f20" textLength="17.17" lengthAdjust="spacingAndGlyphs">5</text>
<line x1="1416.30" y1="404.30" x2="1416.30" y2="413.30" stroke="#231f20" stroke-width="2.40"/>
<text x="1406.38" y="452.90" style="font-size:31.50px;" fill="#231f20" textLength="17.17" lengthAdjust="spacingAndGlyphs">6</text>
<line x1="1487.10" y1="404.30" x2="1487.10" y2="413.30" stroke="#231f20" stroke-width="2.40"/>
<text x="1477.73" y="452.90" style="font-size:31.50px;" fill="#231f20" textLength="17.17" lengthAdjust="spacingAndGlyphs">7</text>
<line x1="1557.40" y1="404.30" x2="1557.40" y2="413.30" stroke="#231f20" stroke-width="2.40"/>
<text x="1548.76" y="452.90" style="font-size:31.50px;" fill="#231f20" textLength="17.17" lengthAdjust="spacingAndGlyphs">8</text>
<line x1="1628.00" y1="404.30" x2="1628.00" y2="413.30" stroke="#231f20" stroke-width="2.40"/>
<text x="1619.83" y="452.90" style="font-size:31.50px;" fill="#231f20" textLength="17.17" lengthAdjust="spacingAndGlyphs">9</text>
<line x1="1698.30" y1="404.30" x2="1698.30" y2="413.30" stroke="#231f20" stroke-width="2.40"/>
<text x="1684.35" y="452.90" style="font-size:31.50px;" fill="#231f20" textLength="34.34" lengthAdjust="spacingAndGlyphs">10</text>
<text x="1140.93" y="452.90" style="font-size:28.60px;" fill="#231f20" textLength="97.90" lengthAdjust="spacingAndGlyphs">Fraction</text>
<line x1="1248.70" y1="467.50" x2="1293.50" y2="467.50" stroke="#231f20" stroke-width="2.40"/>
<line x1="1325.00" y1="467.50" x2="1369.90" y2="467.50" stroke="#231f20" stroke-width="2.40"/>
<line x1="1421.80" y1="467.50" x2="1708.60" y2="467.50" stroke="#231f20" stroke-width="2.40"/>
<text x="1247.78" y="501.60" style="font-size:30.30px;" fill="#231f20" textLength="54.23" lengthAdjust="spacingAndGlyphs">60S</text>
<text x="1326.46" y="501.60" style="font-size:30.30px;" fill="#231f20" textLength="53.12" lengthAdjust="spacingAndGlyphs">80S</text>
<text x="1498.93" y="501.60" style="font-size:29.80px;" fill="#231f20" textLength="129.83" lengthAdjust="spacingAndGlyphs">polysome</text>
<text transform="rotate(-90)" x="-394.99" y="1127.10" style="font-size:33.60px;" fill="#231f20" textLength="397.46" lengthAdjust="spacingAndGlyphs">Ratio of mRNA enrichment</text>
<text transform="rotate(-90)" x="-351.25" y="1167.00" style="font-size:32.50px;" fill="#231f20" textLength="306.59" lengthAdjust="spacingAndGlyphs">(L1 m<tspan dy="-11" style="font-size:21px">6</tspan><tspan dy="11">A mut / L1 Hs)</tspan></text>
<line x1="1275.60" y1="143.00" x2="1275.60" y2="199.60" stroke="#000" stroke-width="2.60"/>
<line x1="1270.40" y1="143.00" x2="1280.80" y2="143.00" stroke="#000" stroke-width="2.60"/>
<line x1="1270.40" y1="199.60" x2="1280.80" y2="199.60" stroke="#000" stroke-width="2.60"/>
<line x1="1345.90" y1="151.10" x2="1345.90" y2="219.50" stroke="#000" stroke-width="2.60"/>
<line x1="1340.70" y1="151.10" x2="1351.10" y2="151.10" stroke="#000" stroke-width="2.60"/>
<line x1="1340.70" y1="219.50" x2="1351.10" y2="219.50" stroke="#000" stroke-width="2.60"/>
<line x1="1416.30" y1="131.40" x2="1416.30" y2="183.00" stroke="#000" stroke-width="2.60"/>
<line x1="1411.10" y1="131.40" x2="1421.50" y2="131.40" stroke="#000" stroke-width="2.60"/>
<line x1="1411.10" y1="183.00" x2="1421.50" y2="183.00" stroke="#000" stroke-width="2.60"/>
<line x1="1487.10" y1="135.70" x2="1487.10" y2="187.90" stroke="#000" stroke-width="2.60"/>
<line x1="1481.90" y1="135.70" x2="1492.30" y2="135.70" stroke="#000" stroke-width="2.60"/>
<line x1="1481.90" y1="187.90" x2="1492.30" y2="187.90" stroke="#000" stroke-width="2.60"/>
<line x1="1557.40" y1="115.50" x2="1557.40" y2="161.20" stroke="#000" stroke-width="2.60"/>
<line x1="1552.20" y1="115.50" x2="1562.60" y2="115.50" stroke="#000" stroke-width="2.60"/>
<line x1="1552.20" y1="161.20" x2="1562.60" y2="161.20" stroke="#000" stroke-width="2.60"/>
<line x1="1628.00" y1="107.60" x2="1628.00" y2="189.30" stroke="#000" stroke-width="2.60"/>
<line x1="1622.80" y1="107.60" x2="1633.20" y2="107.60" stroke="#000" stroke-width="2.60"/>
<line x1="1622.80" y1="189.30" x2="1633.20" y2="189.30" stroke="#000" stroke-width="2.60"/>
<line x1="1698.30" y1="148.50" x2="1698.30" y2="182.60" stroke="#000" stroke-width="2.60"/>
<line x1="1693.10" y1="148.50" x2="1703.50" y2="148.50" stroke="#000" stroke-width="2.60"/>
<line x1="1693.10" y1="182.60" x2="1703.50" y2="182.60" stroke="#000" stroke-width="2.60"/>
<path d="M1275.60 171.70 L1345.90 185.50 L1416.30 157.10 L1487.10 161.70 L1557.40 138.30 L1628.00 148.30 L1698.30 165.90" stroke="#000" stroke-width="3.00" fill="none" stroke-linejoin="round"/>
<circle cx="1275.60" cy="171.70" r="6.80" fill="#000"/>
<circle cx="1345.90" cy="185.50" r="6.80" fill="#000"/>
<circle cx="1416.30" cy="157.10" r="6.80" fill="#000"/>
<circle cx="1487.10" cy="161.70" r="6.80" fill="#000"/>
<circle cx="1557.40" cy="138.30" r="6.80" fill="#000"/>
<circle cx="1628.00" cy="148.30" r="6.80" fill="#000"/>
<circle cx="1698.30" cy="165.90" r="6.80" fill="#000"/>
<line x1="1275.60" y1="116.40" x2="1275.60" y2="210.40" stroke="#e2231a" stroke-width="2.60"/>
<line x1="1270.40" y1="116.40" x2="1280.80" y2="116.40" stroke="#e2231a" stroke-width="2.60"/>
<line x1="1270.40" y1="210.40" x2="1280.80" y2="210.40" stroke="#e2231a" stroke-width="2.60"/>
<line x1="1345.90" y1="121.60" x2="1345.90" y2="219.00" stroke="#e2231a" stroke-width="2.60"/>
<line x1="1340.70" y1="121.60" x2="1351.10" y2="121.60" stroke="#e2231a" stroke-width="2.60"/>
<line x1="1340.70" y1="219.00" x2="1351.10" y2="219.00" stroke="#e2231a" stroke-width="2.60"/>
<line x1="1416.30" y1="149.40" x2="1416.30" y2="214.70" stroke="#e2231a" stroke-width="2.60"/>
<line x1="1411.10" y1="149.40" x2="1421.50" y2="149.40" stroke="#e2231a" stroke-width="2.60"/>
<line x1="1411.10" y1="214.70" x2="1421.50" y2="214.70" stroke="#e2231a" stroke-width="2.60"/>
<line x1="1487.10" y1="203.30" x2="1487.10" y2="223.00" stroke="#e2231a" stroke-width="2.60"/>
<line x1="1481.90" y1="203.30" x2="1492.30" y2="203.30" stroke="#e2231a" stroke-width="2.60"/>
<line x1="1481.90" y1="223.00" x2="1492.30" y2="223.00" stroke="#e2231a" stroke-width="2.60"/>
<line x1="1557.40" y1="203.00" x2="1557.40" y2="226.20" stroke="#e2231a" stroke-width="2.60"/>
<line x1="1552.20" y1="203.00" x2="1562.60" y2="203.00" stroke="#e2231a" stroke-width="2.60"/>
<line x1="1552.20" y1="226.20" x2="1562.60" y2="226.20" stroke="#e2231a" stroke-width="2.60"/>
<line x1="1628.00" y1="234.00" x2="1628.00" y2="251.30" stroke="#e2231a" stroke-width="2.60"/>
<line x1="1622.80" y1="234.00" x2="1633.20" y2="234.00" stroke="#e2231a" stroke-width="2.60"/>
<line x1="1622.80" y1="251.30" x2="1633.20" y2="251.30" stroke="#e2231a" stroke-width="2.60"/>
<line x1="1698.30" y1="240.80" x2="1698.30" y2="284.20" stroke="#e2231a" stroke-width="2.60"/>
<line x1="1693.10" y1="240.80" x2="1703.50" y2="240.80" stroke="#e2231a" stroke-width="2.60"/>
<line x1="1693.10" y1="284.20" x2="1703.50" y2="284.20" stroke="#e2231a" stroke-width="2.60"/>
<path d="M1275.60 163.10 L1345.90 170.00 L1416.30 182.90 L1487.10 213.00 L1557.40 214.40 L1628.00 242.50 L1698.30 262.60" stroke="#e2231a" stroke-width="3.00" fill="none" stroke-linejoin="round"/>
<circle cx="1275.60" cy="163.10" r="6.80" fill="#e2231a"/>
<circle cx="1345.90" cy="170.00" r="6.80" fill="#e2231a"/>
<circle cx="1416.30" cy="182.90" r="6.80" fill="#e2231a"/>
<circle cx="1487.10" cy="213.00" r="6.80" fill="#e2231a"/>
<circle cx="1557.40" cy="214.40" r="6.80" fill="#e2231a"/>
<circle cx="1628.00" cy="242.50" r="6.80" fill="#e2231a"/>
<circle cx="1698.30" cy="262.60" r="6.80" fill="#e2231a"/>
<line x1="1258.70" y1="27.00" x2="1293.70" y2="27.00" stroke="#000" stroke-width="2.80"/>
<circle cx="1276.20" cy="27.00" r="6.50" fill="#000"/>
<line x1="1258.70" y1="66.50" x2="1293.70" y2="66.50" stroke="#e2231a" stroke-width="2.80"/>
<circle cx="1276.20" cy="66.50" r="6.50" fill="#e2231a"/>
<text x="1314.92" y="36.00" style="font-size:32.50px;font-style:italic;" fill="#231f20" textLength="112.46" lengthAdjust="spacingAndGlyphs">GAPDH</text>
<text x="1314.09" y="75.60" style="font-size:32.50px;" fill="#231f20" textLength="158.79" lengthAdjust="spacingAndGlyphs">Reporter L1</text>
<text x="1545.25" y="264.50" style="font-size:33.00px;" fill="#231f20" textLength="26.05" lengthAdjust="spacingAndGlyphs">**</text>
<text x="1610.54" y="289.00" style="font-size:33.00px;" fill="#231f20" textLength="40.04" lengthAdjust="spacingAndGlyphs">***</text>
<text x="1680.94" y="319.00" style="font-size:33.00px;" fill="#231f20" textLength="40.04" lengthAdjust="spacingAndGlyphs">***</text>
<line x1="1250.40" y1="574.60" x2="1250.40" y2="905.00" stroke="#231f20" stroke-width="2.40"/>
<line x1="1249.20" y1="903.80" x2="1745.00" y2="903.80" stroke="#231f20" stroke-width="2.40"/>
<line x1="1241.50" y1="903.80" x2="1250.40" y2="903.80" stroke="#231f20" stroke-width="2.40"/>
<text x="1196.35" y="912.90" style="font-size:31.20px;" fill="#231f20" textLength="39.96" lengthAdjust="spacingAndGlyphs">0.0</text>
<line x1="1241.50" y1="837.90" x2="1250.40" y2="837.90" stroke="#231f20" stroke-width="2.40"/>
<text x="1196.35" y="847.00" style="font-size:31.20px;" fill="#231f20" textLength="40.11" lengthAdjust="spacingAndGlyphs">0.5</text>
<line x1="1241.50" y1="772.00" x2="1250.40" y2="772.00" stroke="#231f20" stroke-width="2.40"/>
<text x="1195.29" y="781.10" style="font-size:31.20px;" fill="#231f20" textLength="41.05" lengthAdjust="spacingAndGlyphs">1.0</text>
<line x1="1241.50" y1="706.10" x2="1250.40" y2="706.10" stroke="#231f20" stroke-width="2.40"/>
<text x="1195.28" y="715.20" style="font-size:31.20px;" fill="#231f20" textLength="41.21" lengthAdjust="spacingAndGlyphs">1.5</text>
<line x1="1241.50" y1="640.20" x2="1250.40" y2="640.20" stroke="#231f20" stroke-width="2.40"/>
<text x="1196.05" y="649.30" style="font-size:31.20px;" fill="#231f20" textLength="40.27" lengthAdjust="spacingAndGlyphs">2.0</text>
<line x1="1241.50" y1="574.30" x2="1250.40" y2="574.30" stroke="#231f20" stroke-width="2.40"/>
<text x="1196.05" y="583.40" style="font-size:31.20px;" fill="#231f20" textLength="40.42" lengthAdjust="spacingAndGlyphs">2.5</text>
<line x1="1285.00" y1="903.80" x2="1285.00" y2="913.30" stroke="#231f20" stroke-width="2.40"/>
<text x="1275.09" y="952.00" style="font-size:31.50px;" fill="#231f20" textLength="17.17" lengthAdjust="spacingAndGlyphs">4</text>
<line x1="1356.00" y1="903.80" x2="1356.00" y2="913.30" stroke="#231f20" stroke-width="2.40"/>
<text x="1346.43" y="952.00" style="font-size:31.50px;" fill="#231f20" textLength="17.17" lengthAdjust="spacingAndGlyphs">5</text>
<line x1="1426.80" y1="903.80" x2="1426.80" y2="913.30" stroke="#231f20" stroke-width="2.40"/>
<text x="1416.98" y="952.00" style="font-size:31.50px;" fill="#231f20" textLength="17.17" lengthAdjust="spacingAndGlyphs">6</text>
<line x1="1497.60" y1="903.80" x2="1497.60" y2="913.30" stroke="#231f20" stroke-width="2.40"/>
<text x="1488.13" y="952.00" style="font-size:31.50px;" fill="#231f20" textLength="17.17" lengthAdjust="spacingAndGlyphs">7</text>
<line x1="1567.90" y1="903.80" x2="1567.90" y2="913.30" stroke="#231f20" stroke-width="2.40"/>
<text x="1559.26" y="952.00" style="font-size:31.50px;" fill="#231f20" textLength="17.17" lengthAdjust="spacingAndGlyphs">8</text>
<line x1="1638.60" y1="903.80" x2="1638.60" y2="913.30" stroke="#231f20" stroke-width="2.40"/>
<text x="1630.83" y="952.00" style="font-size:31.50px;" fill="#231f20" textLength="17.17" lengthAdjust="spacingAndGlyphs">9</text>
<line x1="1709.40" y1="903.80" x2="1709.40" y2="913.30" stroke="#231f20" stroke-width="2.40"/>
<text x="1695.15" y="952.00" style="font-size:31.50px;" fill="#231f20" textLength="34.34" lengthAdjust="spacingAndGlyphs">10</text>
<text x="1151.73" y="952.00" style="font-size:28.60px;" fill="#231f20" textLength="97.79" lengthAdjust="spacingAndGlyphs">Fraction</text>
<line x1="1259.20" y1="965.80" x2="1303.60" y2="965.80" stroke="#231f20" stroke-width="2.40"/>
<line x1="1336.30" y1="965.80" x2="1380.30" y2="965.80" stroke="#231f20" stroke-width="2.40"/>
<line x1="1424.70" y1="965.80" x2="1721.80" y2="965.80" stroke="#231f20" stroke-width="2.40"/>
<text x="1258.48" y="1003.70" style="font-size:30.30px;" fill="#231f20" textLength="54.23" lengthAdjust="spacingAndGlyphs">60S</text>
<text x="1336.16" y="1003.70" style="font-size:30.30px;" fill="#231f20" textLength="53.12" lengthAdjust="spacingAndGlyphs">80S</text>
<text x="1510.03" y="1003.70" style="font-size:29.80px;" fill="#231f20" textLength="129.63" lengthAdjust="spacingAndGlyphs">polysome</text>
<text transform="rotate(-90)" x="-920.66" y="1133.00" style="font-size:33.60px;" fill="#231f20" textLength="393.94" lengthAdjust="spacingAndGlyphs">Ratio of mRNA enrichment</text>
<text transform="rotate(-90)" x="-852.00" y="1172.00" style="font-size:32.50px;" fill="#231f20" textLength="259.54" lengthAdjust="spacingAndGlyphs">(siALKBH5/siCtrl)</text>
<line x1="1285.00" y1="730.70" x2="1285.00" y2="769.80" stroke="#e60012" stroke-width="2.60"/>
<line x1="1279.80" y1="730.70" x2="1290.20" y2="730.70" stroke="#e60012" stroke-width="2.60"/>
<line x1="1279.80" y1="769.80" x2="1290.20" y2="769.80" stroke="#e60012" stroke-width="2.60"/>
<line x1="1356.00" y1="696.00" x2="1356.00" y2="756.00" stroke="#e60012" stroke-width="2.60"/>
<line x1="1350.80" y1="696.00" x2="1361.20" y2="696.00" stroke="#e60012" stroke-width="2.60"/>
<line x1="1350.80" y1="756.00" x2="1361.20" y2="756.00" stroke="#e60012" stroke-width="2.60"/>
<line x1="1426.80" y1="662.50" x2="1426.80" y2="764.70" stroke="#e60012" stroke-width="2.60"/>
<line x1="1421.60" y1="662.50" x2="1432.00" y2="662.50" stroke="#e60012" stroke-width="2.60"/>
<line x1="1421.60" y1="764.70" x2="1432.00" y2="764.70" stroke="#e60012" stroke-width="2.60"/>
<line x1="1497.60" y1="648.20" x2="1497.60" y2="678.80" stroke="#e60012" stroke-width="2.60"/>
<line x1="1492.40" y1="648.20" x2="1502.80" y2="648.20" stroke="#e60012" stroke-width="2.60"/>
<line x1="1492.40" y1="678.80" x2="1502.80" y2="678.80" stroke="#e60012" stroke-width="2.60"/>
<line x1="1567.90" y1="681.20" x2="1567.90" y2="727.00" stroke="#e60012" stroke-width="2.60"/>
<line x1="1562.70" y1="681.20" x2="1573.10" y2="681.20" stroke="#e60012" stroke-width="2.60"/>
<line x1="1562.70" y1="727.00" x2="1573.10" y2="727.00" stroke="#e60012" stroke-width="2.60"/>
<line x1="1638.60" y1="651.70" x2="1638.60" y2="682.30" stroke="#e60012" stroke-width="2.60"/>
<line x1="1633.40" y1="651.70" x2="1643.80" y2="651.70" stroke="#e60012" stroke-width="2.60"/>
<line x1="1633.40" y1="682.30" x2="1643.80" y2="682.30" stroke="#e60012" stroke-width="2.60"/>
<line x1="1709.40" y1="620.30" x2="1709.40" y2="681.40" stroke="#e60012" stroke-width="2.60"/>
<line x1="1704.20" y1="620.30" x2="1714.60" y2="620.30" stroke="#e60012" stroke-width="2.60"/>
<line x1="1704.20" y1="681.40" x2="1714.60" y2="681.40" stroke="#e60012" stroke-width="2.60"/>
<path d="M1285.00 750.00 L1356.00 726.00 L1426.80 713.10 L1497.60 663.70 L1567.90 717.60 L1638.60 667.20 L1709.40 651.10" stroke="#e60012" stroke-width="3.00" fill="none" stroke-linejoin="round"/>
<circle cx="1285.00" cy="750.00" r="6.80" fill="#e60012"/>
<circle cx="1356.00" cy="726.00" r="6.80" fill="#e60012"/>
<circle cx="1426.80" cy="713.10" r="6.80" fill="#e60012"/>
<circle cx="1497.60" cy="663.70" r="6.80" fill="#e60012"/>
<circle cx="1567.90" cy="717.60" r="6.80" fill="#e60012"/>
<circle cx="1638.60" cy="667.20" r="6.80" fill="#e60012"/>
<circle cx="1709.40" cy="651.10" r="6.80" fill="#e60012"/>
<line x1="1285.00" y1="792.80" x2="1285.00" y2="841.00" stroke="#000" stroke-width="2.60"/>
<line x1="1279.80" y1="792.80" x2="1290.20" y2="792.80" stroke="#000" stroke-width="2.60"/>
<line x1="1279.80" y1="841.00" x2="1290.20" y2="841.00" stroke="#000" stroke-width="2.60"/>
<line x1="1356.00" y1="778.50" x2="1356.00" y2="797.70" stroke="#000" stroke-width="2.60"/>
<line x1="1350.80" y1="778.50" x2="1361.20" y2="778.50" stroke="#000" stroke-width="2.60"/>
<line x1="1350.80" y1="797.70" x2="1361.20" y2="797.70" stroke="#000" stroke-width="2.60"/>
<line x1="1426.80" y1="752.00" x2="1426.80" y2="762.00" stroke="#000" stroke-width="2.60"/>
<line x1="1421.60" y1="752.00" x2="1432.00" y2="752.00" stroke="#000" stroke-width="2.60"/>
<line x1="1421.60" y1="762.00" x2="1432.00" y2="762.00" stroke="#000" stroke-width="2.60"/>
<line x1="1497.60" y1="756.40" x2="1497.60" y2="779.20" stroke="#000" stroke-width="2.60"/>
<line x1="1492.40" y1="756.40" x2="1502.80" y2="756.40" stroke="#000" stroke-width="2.60"/>
<line x1="1492.40" y1="779.20" x2="1502.80" y2="779.20" stroke="#000" stroke-width="2.60"/>
<line x1="1567.90" y1="729.80" x2="1567.90" y2="767.00" stroke="#000" stroke-width="2.60"/>
<line x1="1562.70" y1="729.80" x2="1573.10" y2="729.80" stroke="#000" stroke-width="2.60"/>
<line x1="1562.70" y1="767.00" x2="1573.10" y2="767.00" stroke="#000" stroke-width="2.60"/>
<line x1="1638.60" y1="719.10" x2="1638.60" y2="755.00" stroke="#000" stroke-width="2.60"/>
<line x1="1633.40" y1="719.10" x2="1643.80" y2="719.10" stroke="#000" stroke-width="2.60"/>
<line x1="1633.40" y1="755.00" x2="1643.80" y2="755.00" stroke="#000" stroke-width="2.60"/>
<line x1="1709.40" y1="687.60" x2="1709.40" y2="776.10" stroke="#000" stroke-width="2.60"/>
<line x1="1704.20" y1="687.60" x2="1714.60" y2="687.60" stroke="#000" stroke-width="2.60"/>
<line x1="1704.20" y1="776.10" x2="1714.60" y2="776.10" stroke="#000" stroke-width="2.60"/>
<path d="M1285.00 816.50 L1356.00 787.50 L1426.80 757.00 L1497.60 767.60 L1567.90 748.60 L1638.60 736.60 L1709.40 731.70" stroke="#000" stroke-width="3.00" fill="none" stroke-linejoin="round"/>
<circle cx="1285.00" cy="816.50" r="6.80" fill="#000"/>
<circle cx="1356.00" cy="787.50" r="6.80" fill="#000"/>
<circle cx="1426.80" cy="757.00" r="6.80" fill="#000"/>
<circle cx="1497.60" cy="767.60" r="6.80" fill="#000"/>
<circle cx="1567.90" cy="748.60" r="6.80" fill="#000"/>
<circle cx="1638.60" cy="736.60" r="6.80" fill="#000"/>
<circle cx="1709.40" cy="731.70" r="6.80" fill="#000"/>
<line x1="1259.30" y1="574.00" x2="1293.70" y2="574.00" stroke="#000" stroke-width="2.80"/>
<circle cx="1276.50" cy="574.00" r="6.50" fill="#000"/>
<line x1="1259.30" y1="613.50" x2="1293.70" y2="613.50" stroke="#e60012" stroke-width="2.80"/>
<circle cx="1276.50" cy="613.50" r="6.50" fill="#e60012"/>
<text x="1314.92" y="582.60" style="font-size:31.50px;font-style:italic;" fill="#231f20" textLength="112.46" lengthAdjust="spacingAndGlyphs">GAPDH</text>
<text x="1315.57" y="622.00" style="font-size:31.50px;font-style:italic;" fill="#231f20" textLength="34.66" lengthAdjust="spacingAndGlyphs">L1</text>
<text x="1278.04" y="721.00" style="font-size:33.00px;" fill="#231f20" textLength="11.89" lengthAdjust="spacingAndGlyphs">*</text>
<text x="1478.64" y="639.50" style="font-size:33.00px;" fill="#231f20" textLength="40.04" lengthAdjust="spacingAndGlyphs">***</text>
<text x="1630.74" y="644.80" style="font-size:33.00px;" fill="#231f20" textLength="11.89" lengthAdjust="spacingAndGlyphs">*</text>
<text x="1694.95" y="615.70" style="font-size:33.00px;" fill="#231f20" textLength="26.05" lengthAdjust="spacingAndGlyphs">**</text>
<line x1="104.00" y1="1029.40" x2="363.70" y2="1029.40" stroke="#231f20" stroke-width="5.60"/>
<line x1="578.20" y1="1029.40" x2="835.00" y2="1029.40" stroke="#231f20" stroke-width="5.60"/>
<path d="M830.9 1014.6 L856.7 1029.4 L830.9 1044.2 Z" fill="#231f20"/>
<text x="374.58" y="1040.00" style="font-size:33.50px;" fill="#231f20" textLength="193.08" lengthAdjust="spacingAndGlyphs">L1Hs 5 ′UTR</text>
<line x1="98.00" y1="1087.10" x2="850.60" y2="1087.10" stroke="#231f20" stroke-width="2.60"/>
<line x1="108.70" y1="1087.10" x2="108.70" y2="1081.00" stroke="#231f20" stroke-width="2.40"/>
<line x1="271.70" y1="1087.10" x2="271.70" y2="1081.00" stroke="#231f20" stroke-width="2.40"/>
<line x1="435.60" y1="1087.10" x2="435.60" y2="1081.00" stroke="#231f20" stroke-width="2.40"/>
<line x1="598.80" y1="1087.10" x2="598.80" y2="1081.00" stroke="#231f20" stroke-width="2.40"/>
<line x1="761.70" y1="1087.10" x2="761.70" y2="1081.00" stroke="#231f20" stroke-width="2.40"/>
<line x1="847.00" y1="1087.10" x2="847.00" y2="1081.00" stroke="#231f20" stroke-width="2.40"/>
<text x="100.78" y="1076.50" style="font-size:29.50px;" fill="#231f20" textLength="16.92" lengthAdjust="spacingAndGlyphs">0</text>
<text x="249.15" y="1076.50" style="font-size:29.50px;" fill="#231f20" textLength="51.64" lengthAdjust="spacingAndGlyphs">200</text>
<text x="413.70" y="1076.50" style="font-size:29.50px;" fill="#231f20" textLength="50.37" lengthAdjust="spacingAndGlyphs">400</text>
<text x="576.69" y="1076.50" style="font-size:29.50px;" fill="#231f20" textLength="50.48" lengthAdjust="spacingAndGlyphs">600</text>
<text x="740.04" y="1076.50" style="font-size:29.50px;" fill="#231f20" textLength="50.42" lengthAdjust="spacingAndGlyphs">800</text>
<text x="823.42" y="1076.50" style="font-size:29.50px;" fill="#231f20" textLength="51.32" lengthAdjust="spacingAndGlyphs">906</text>
<rect x="360.40" y="1095.00" width="40.40" height="604.00" fill="#efd2d5"/>
<rect x="488.70" y="1095.00" width="40.10" height="604.00" fill="#efd2d5"/>
<rect x="578.00" y="1095.00" width="40.70" height="604.00" fill="#efd2d5"/>
<defs><clipPath id="pinkclip"><rect x="360.40" y="1095.00" width="40.40" height="604.00" fill="#000"/><rect x="488.70" y="1095.00" width="40.10" height="604.00" fill="#000"/><rect x="578.00" y="1095.00" width="40.70" height="604.00" fill="#000"/></clipPath></defs>
<path d="M108.22 1235.90 L108.22 1222.22 L117.04 1217.81 L118.14 1224.42 L119.24 1223.32 L123.65 1224.86 L128.05 1223.54 L132.46 1224.86 L136.87 1223.98 L139.07 1225.52 L142.38 1228.83 L145.68 1228.83 L147.89 1232.13 L152.29 1235.44 L161.11 1235.44 L163.31 1231.03 L166.62 1228.83 L167.72 1181.45 L171.02 1180.35 L174.33 1180.79 L177.64 1182.55 L178.08 1222.22 L179.84 1217.81 L183.14 1214.50 L184.25 1213.40 L185.35 1183.65 L187.55 1183.65 L190.86 1184.76 L191.96 1197.98 L194.16 1199.08 L195.26 1213.40 L197.47 1231.03 L198.57 1235.44 L200.77 1233.23 L202.98 1227.73 L214.00 1227.73 L222.81 1228.83 L225.01 1234.34 L231.62 1234.34 L236.03 1227.73 L239.34 1223.32 L242.64 1226.62 L245.95 1233.23 L249.25 1234.34 L262.47 1234.34 L265.78 1226.62 L269.09 1209.00 L271.29 1207.89 L274.59 1213.40 L277.90 1215.61 L280.10 1224.42 L284.51 1225.52 L287.82 1222.22 L290.02 1213.40 L293.33 1212.30 L296.63 1214.50 L298.83 1226.62 L302.14 1235.44 L305.45 1224.42 L309.85 1217.81 L313.16 1214.50 L315.36 1217.81 L317.57 1228.83 L321.97 1228.83 L326.38 1231.03 L329.68 1224.42 L332.99 1189.16 L335.19 1188.06 L337.40 1195.77 L339.60 1196.88 L341.80 1202.38 L342.91 1231.03 L346.21 1233.23 L350.62 1231.03 L352.82 1211.20 L356.13 1212.30 L360.54 1215.61 L362.74 1231.03 L364.94 1226.62 L366.49 1178.14 L371.55 1177.04 L373.76 1182.55 L375.96 1222.22 L377.72 1232.13 L379.27 1226.62 L381.47 1224.42 L383.67 1204.59 L386.98 1167.13 L390.28 1134.07 L392.49 1132.97 L394.69 1167.13 L396.90 1191.37 L399.10 1213.40 L401.30 1231.03 L403.51 1234.34 L407.91 1231.03 L410.12 1201.28 L413.42 1200.18 L417.83 1202.38 L418.93 1234.34 L425.54 1233.23 L429.95 1229.93 L436.56 1231.03 L438.76 1235.44 L440.97 1235.44 L443.17 1222.22 L446.48 1210.10 L449.78 1210.10 L451.99 1222.22 L456.39 1231.03 L458.60 1222.22 L460.80 1185.86 L465.21 1186.96 L468.51 1191.37 L469.61 1222.22 L474.02 1223.32 L478.81 1223.32 L481.02 1225.52 L483.22 1226.62 L485.43 1225.52 L488.73 1227.73 L492.04 1228.83 L493.14 1234.34 L495.34 1233.23 L497.55 1167.13 L499.75 1166.02 L501.95 1151.70 L504.16 1149.50 L505.26 1140.68 L506.36 1140.68 L507.02 1202.38 L508.56 1204.59 L510.77 1200.18 L514.07 1199.08 L517.38 1197.98 L519.58 1207.89 L521.78 1226.62 L525.09 1229.93 L528.40 1234.34 L530.60 1228.83 L533.90 1224.42 L538.31 1221.12 L541.62 1222.22 L542.72 1209.00 L546.02 1189.16 L548.23 1129.67 L549.77 1098.81 L551.53 1095.51 L553.74 1101.02 L555.50 1127.46 L557.04 1128.56 L558.14 1217.81 L559.91 1178.14 L562.55 1179.25 L564.76 1180.35 L566.96 1184.76 L568.72 1186.96 L570.26 1231.03 L573.57 1235.44 L577.98 1235.88 L582.38 1233.23 L586.79 1228.83 L590.10 1222.22 L593.40 1220.01 L596.71 1220.01 L597.81 1223.32 L600.01 1222.22 L602.22 1216.71 L604.42 1212.30 L606.62 1215.61 L608.83 1220.01 L612.13 1222.22 L614.34 1232.13 L617.64 1234.34 L622.05 1234.34 L624.25 1217.81 L627.56 1214.50 L631.97 1202.38 L634.17 1212.30 L637.47 1215.61 L640.78 1214.50 L644.09 1213.40 L646.29 1210.10 L647.39 1182.55 L649.59 1183.65 L652.90 1183.65 L655.10 1197.98 L657.31 1199.08 L658.41 1224.42 L661.71 1227.73 L665.02 1228.83 L669.43 1222.22 L671.63 1221.12 L674.94 1220.01 L677.14 1205.69 L679.34 1211.20 L681.55 1182.55 L683.75 1175.94 L687.06 1191.37 L690.36 1193.57 L692.57 1222.22 L694.77 1231.03 L696.97 1222.22 L701.38 1216.71 L704.68 1212.30 L707.99 1216.71 L711.30 1222.22 L714.60 1226.62 L715.70 1232.13 L721.21 1232.13 L725.62 1231.03 L728.92 1202.38 L732.23 1201.28 L736.64 1203.49 L738.84 1211.20 L741.04 1233.23 L744.35 1235.88 L747.66 1231.03 L749.86 1222.22 L754.27 1221.12 L757.57 1223.32 L759.78 1232.13 L763.08 1229.93 L766.39 1228.83 L769.69 1227.73 L773.00 1231.03 L777.40 1235.44 L782.91 1235.88 L787.32 1233.23 L791.73 1231.03 L792.83 1222.22 L797.24 1223.32 L800.54 1222.22 L802.75 1227.73 L807.15 1228.83 L810.46 1226.62 L813.76 1221.12 L815.97 1218.91 L820.37 1218.91 L822.58 1220.01 L824.78 1226.62 L828.09 1233.23 L831.39 1235.44 L838.00 1235.88 L842.41 1235.44 L844.61 1231.03 L847.26 1226.62 L847.26 1235.90 Z" fill="url(#hat)"/>
<path d="M108.22 1235.90 L108.22 1222.22 L117.04 1217.81 L118.14 1224.42 L119.24 1223.32 L123.65 1224.86 L128.05 1223.54 L132.46 1224.86 L136.87 1223.98 L139.07 1225.52 L142.38 1228.83 L145.68 1228.83 L147.89 1232.13 L152.29 1235.44 L161.11 1235.44 L163.31 1231.03 L166.62 1228.83 L167.72 1181.45 L171.02 1180.35 L174.33 1180.79 L177.64 1182.55 L178.08 1222.22 L179.84 1217.81 L183.14 1214.50 L184.25 1213.40 L185.35 1183.65 L187.55 1183.65 L190.86 1184.76 L191.96 1197.98 L194.16 1199.08 L195.26 1213.40 L197.47 1231.03 L198.57 1235.44 L200.77 1233.23 L202.98 1227.73 L214.00 1227.73 L222.81 1228.83 L225.01 1234.34 L231.62 1234.34 L236.03 1227.73 L239.34 1223.32 L242.64 1226.62 L245.95 1233.23 L249.25 1234.34 L262.47 1234.34 L265.78 1226.62 L269.09 1209.00 L271.29 1207.89 L274.59 1213.40 L277.90 1215.61 L280.10 1224.42 L284.51 1225.52 L287.82 1222.22 L290.02 1213.40 L293.33 1212.30 L296.63 1214.50 L298.83 1226.62 L302.14 1235.44 L305.45 1224.42 L309.85 1217.81 L313.16 1214.50 L315.36 1217.81 L317.57 1228.83 L321.97 1228.83 L326.38 1231.03 L329.68 1224.42 L332.99 1189.16 L335.19 1188.06 L337.40 1195.77 L339.60 1196.88 L341.80 1202.38 L342.91 1231.03 L346.21 1233.23 L350.62 1231.03 L352.82 1211.20 L356.13 1212.30 L360.54 1215.61 L362.74 1231.03 L364.94 1226.62 L366.49 1178.14 L371.55 1177.04 L373.76 1182.55 L375.96 1222.22 L377.72 1232.13 L379.27 1226.62 L381.47 1224.42 L383.67 1204.59 L386.98 1167.13 L390.28 1134.07 L392.49 1132.97 L394.69 1167.13 L396.90 1191.37 L399.10 1213.40 L401.30 1231.03 L403.51 1234.34 L407.91 1231.03 L410.12 1201.28 L413.42 1200.18 L417.83 1202.38 L418.93 1234.34 L425.54 1233.23 L429.95 1229.93 L436.56 1231.03 L438.76 1235.44 L440.97 1235.44 L443.17 1222.22 L446.48 1210.10 L449.78 1210.10 L451.99 1222.22 L456.39 1231.03 L458.60 1222.22 L460.80 1185.86 L465.21 1186.96 L468.51 1191.37 L469.61 1222.22 L474.02 1223.32 L478.81 1223.32 L481.02 1225.52 L483.22 1226.62 L485.43 1225.52 L488.73 1227.73 L492.04 1228.83 L493.14 1234.34 L495.34 1233.23 L497.55 1167.13 L499.75 1166.02 L501.95 1151.70 L504.16 1149.50 L505.26 1140.68 L506.36 1140.68 L507.02 1202.38 L508.56 1204.59 L510.77 1200.18 L514.07 1199.08 L517.38 1197.98 L519.58 1207.89 L521.78 1226.62 L525.09 1229.93 L528.40 1234.34 L530.60 1228.83 L533.90 1224.42 L538.31 1221.12 L541.62 1222.22 L542.72 1209.00 L546.02 1189.16 L548.23 1129.67 L549.77 1098.81 L551.53 1095.51 L553.74 1101.02 L555.50 1127.46 L557.04 1128.56 L558.14 1217.81 L559.91 1178.14 L562.55 1179.25 L564.76 1180.35 L566.96 1184.76 L568.72 1186.96 L570.26 1231.03 L573.57 1235.44 L577.98 1235.88 L582.38 1233.23 L586.79 1228.83 L590.10 1222.22 L593.40 1220.01 L596.71 1220.01 L597.81 1223.32 L600.01 1222.22 L602.22 1216.71 L604.42 1212.30 L606.62 1215.61 L608.83 1220.01 L612.13 1222.22 L614.34 1232.13 L617.64 1234.34 L622.05 1234.34 L624.25 1217.81 L627.56 1214.50 L631.97 1202.38 L634.17 1212.30 L637.47 1215.61 L640.78 1214.50 L644.09 1213.40 L646.29 1210.10 L647.39 1182.55 L649.59 1183.65 L652.90 1183.65 L655.10 1197.98 L657.31 1199.08 L658.41 1224.42 L661.71 1227.73 L665.02 1228.83 L669.43 1222.22 L671.63 1221.12 L674.94 1220.01 L677.14 1205.69 L679.34 1211.20 L681.55 1182.55 L683.75 1175.94 L687.06 1191.37 L690.36 1193.57 L692.57 1222.22 L694.77 1231.03 L696.97 1222.22 L701.38 1216.71 L704.68 1212.30 L707.99 1216.71 L711.30 1222.22 L714.60 1226.62 L715.70 1232.13 L721.21 1232.13 L725.62 1231.03 L728.92 1202.38 L732.23 1201.28 L736.64 1203.49 L738.84 1211.20 L741.04 1233.23 L744.35 1235.88 L747.66 1231.03 L749.86 1222.22 L754.27 1221.12 L757.57 1223.32 L759.78 1232.13 L763.08 1229.93 L766.39 1228.83 L769.69 1227.73 L773.00 1231.03 L777.40 1235.44 L782.91 1235.88 L787.32 1233.23 L791.73 1231.03 L792.83 1222.22 L797.24 1223.32 L800.54 1222.22 L802.75 1227.73 L807.15 1228.83 L810.46 1226.62 L813.76 1221.12 L815.97 1218.91 L820.37 1218.91 L822.58 1220.01 L824.78 1226.62 L828.09 1233.23 L831.39 1235.44 L838.00 1235.88 L842.41 1235.44 L844.61 1231.03 L847.26 1226.62 L847.26 1235.90 Z" fill="#3f1819" clip-path="url(#pinkclip)"/>
<line x1="108.00" y1="1236.20" x2="847.30" y2="1236.20" stroke="#2a2424" stroke-width="1.40"/>
<path d="M108.22 1391.60 L108.22 1391.61 L110.43 1390.29 L117.04 1389.41 L118.14 1385.44 L121.44 1384.34 L124.75 1382.13 L125.85 1381.03 L128.05 1384.34 L130.26 1382.79 L133.56 1382.13 L135.77 1385.44 L137.97 1386.54 L140.17 1389.85 L142.38 1389.85 L152.29 1389.85 L154.50 1390.95 L156.26 1381.03 L161.11 1381.03 L164.41 1379.93 L165.52 1381.03 L166.62 1389.85 L168.16 1371.12 L172.13 1371.12 L176.53 1372.22 L177.64 1390.95 L180.94 1389.85 L183.14 1385.44 L185.35 1375.52 L189.76 1373.32 L191.96 1376.62 L195.26 1383.23 L197.47 1389.85 L198.57 1391.61 L202.98 1388.74 L209.59 1387.64 L211.79 1388.74 L214.00 1390.29 L218.40 1389.85 L225.01 1390.95 L229.42 1389.85 L231.62 1387.64 L237.13 1386.54 L240.44 1387.64 L249.25 1388.74 L258.07 1390.29 L264.68 1387.64 L269.09 1384.34 L272.39 1383.23 L277.90 1385.44 L281.21 1388.74 L284.51 1390.29 L293.33 1389.85 L299.94 1390.95 L304.34 1389.85 L307.65 1385.44 L308.75 1377.73 L315.36 1376.62 L317.57 1376.18 L318.67 1383.23 L321.97 1384.34 L324.18 1387.64 L328.58 1389.85 L332.99 1385.44 L336.30 1385.44 L339.60 1387.20 L342.91 1390.95 L346.21 1389.85 L349.52 1387.20 L353.92 1385.44 L358.33 1387.64 L360.54 1390.29 L361.64 1387.64 L364.94 1387.64 L367.15 1378.83 L370.45 1376.62 L373.76 1376.62 L375.96 1384.34 L378.16 1385.44 L381.47 1387.20 L383.67 1381.03 L385.88 1370.01 L388.08 1365.61 L389.84 1354.59 L390.28 1270.85 L391.39 1246.61 L393.59 1245.51 L395.13 1259.83 L396.90 1262.04 L399.10 1266.44 L400.20 1328.14 L401.30 1389.85 L403.51 1390.29 L407.91 1388.74 L410.12 1385.44 L414.52 1385.44 L417.83 1387.64 L420.03 1390.95 L425.54 1390.95 L429.95 1388.74 L432.15 1387.20 L436.56 1388.08 L440.97 1390.29 L444.27 1388.74 L445.82 1375.52 L449.78 1374.42 L453.09 1375.52 L455.29 1376.62 L457.49 1389.85 L458.60 1381.03 L461.90 1378.83 L466.31 1379.93 L467.41 1383.23 L468.51 1389.85 L471.82 1388.74 L478.81 1385.00 L481.02 1385.44 L485.43 1387.20 L488.73 1390.95 L494.24 1391.61 L497.55 1377.73 L500.85 1374.42 L505.26 1371.12 L507.46 1382.13 L510.77 1382.79 L511.87 1374.42 L515.17 1373.32 L519.58 1375.52 L521.78 1377.73 L522.89 1387.64 L526.19 1389.85 L528.40 1391.61 L531.70 1389.41 L536.11 1388.08 L542.72 1387.64 L544.92 1385.44 L546.02 1353.49 L548.23 1336.96 L550.43 1334.76 L553.74 1335.86 L554.84 1361.20 L557.04 1362.30 L558.14 1378.83 L560.35 1376.62 L563.65 1375.52 L564.76 1374.86 L565.86 1383.23 L569.16 1386.54 L573.57 1390.95 L577.98 1391.61 L582.38 1389.85 L589.00 1387.64 L593.40 1386.54 L597.81 1387.20 L601.12 1386.54 L602.22 1375.52 L606.62 1375.52 L611.03 1375.52 L612.13 1386.54 L615.44 1387.20 L619.85 1390.95 L624.25 1387.20 L628.66 1386.54 L633.07 1384.34 L637.47 1386.54 L644.09 1385.44 L648.49 1384.34 L652.90 1385.44 L659.51 1388.74 L668.33 1389.85 L674.94 1385.44 L679.34 1383.23 L681.55 1376.62 L684.85 1373.32 L688.16 1375.52 L690.36 1377.73 L692.57 1388.74 L696.97 1382.13 L700.28 1381.03 L702.48 1376.62 L704.68 1374.42 L706.89 1377.73 L709.09 1381.03 L711.30 1385.44 L713.50 1388.74 L721.21 1389.85 L727.82 1389.85 L728.92 1385.44 L736.64 1385.44 L738.84 1388.74 L743.25 1391.61 L747.66 1389.85 L754.27 1388.74 L760.88 1389.85 L769.69 1390.29 L778.51 1390.29 L782.91 1390.95 L791.73 1388.74 L792.83 1386.54 L798.34 1386.54 L800.54 1384.34 L802.75 1386.54 L807.15 1385.88 L813.76 1386.54 L822.58 1388.08 L829.19 1390.95 L835.80 1392.05 L842.41 1391.61 L844.61 1387.64 L847.26 1386.54 L847.26 1391.60 Z" fill="url(#hat)"/>
<path d="M108.22 1391.60 L108.22 1391.61 L110.43 1390.29 L117.04 1389.41 L118.14 1385.44 L121.44 1384.34 L124.75 1382.13 L125.85 1381.03 L128.05 1384.34 L130.26 1382.79 L133.56 1382.13 L135.77 1385.44 L137.97 1386.54 L140.17 1389.85 L142.38 1389.85 L152.29 1389.85 L154.50 1390.95 L156.26 1381.03 L161.11 1381.03 L164.41 1379.93 L165.52 1381.03 L166.62 1389.85 L168.16 1371.12 L172.13 1371.12 L176.53 1372.22 L177.64 1390.95 L180.94 1389.85 L183.14 1385.44 L185.35 1375.52 L189.76 1373.32 L191.96 1376.62 L195.26 1383.23 L197.47 1389.85 L198.57 1391.61 L202.98 1388.74 L209.59 1387.64 L211.79 1388.74 L214.00 1390.29 L218.40 1389.85 L225.01 1390.95 L229.42 1389.85 L231.62 1387.64 L237.13 1386.54 L240.44 1387.64 L249.25 1388.74 L258.07 1390.29 L264.68 1387.64 L269.09 1384.34 L272.39 1383.23 L277.90 1385.44 L281.21 1388.74 L284.51 1390.29 L293.33 1389.85 L299.94 1390.95 L304.34 1389.85 L307.65 1385.44 L308.75 1377.73 L315.36 1376.62 L317.57 1376.18 L318.67 1383.23 L321.97 1384.34 L324.18 1387.64 L328.58 1389.85 L332.99 1385.44 L336.30 1385.44 L339.60 1387.20 L342.91 1390.95 L346.21 1389.85 L349.52 1387.20 L353.92 1385.44 L358.33 1387.64 L360.54 1390.29 L361.64 1387.64 L364.94 1387.64 L367.15 1378.83 L370.45 1376.62 L373.76 1376.62 L375.96 1384.34 L378.16 1385.44 L381.47 1387.20 L383.67 1381.03 L385.88 1370.01 L388.08 1365.61 L389.84 1354.59 L390.28 1270.85 L391.39 1246.61 L393.59 1245.51 L395.13 1259.83 L396.90 1262.04 L399.10 1266.44 L400.20 1328.14 L401.30 1389.85 L403.51 1390.29 L407.91 1388.74 L410.12 1385.44 L414.52 1385.44 L417.83 1387.64 L420.03 1390.95 L425.54 1390.95 L429.95 1388.74 L432.15 1387.20 L436.56 1388.08 L440.97 1390.29 L444.27 1388.74 L445.82 1375.52 L449.78 1374.42 L453.09 1375.52 L455.29 1376.62 L457.49 1389.85 L458.60 1381.03 L461.90 1378.83 L466.31 1379.93 L467.41 1383.23 L468.51 1389.85 L471.82 1388.74 L478.81 1385.00 L481.02 1385.44 L485.43 1387.20 L488.73 1390.95 L494.24 1391.61 L497.55 1377.73 L500.85 1374.42 L505.26 1371.12 L507.46 1382.13 L510.77 1382.79 L511.87 1374.42 L515.17 1373.32 L519.58 1375.52 L521.78 1377.73 L522.89 1387.64 L526.19 1389.85 L528.40 1391.61 L531.70 1389.41 L536.11 1388.08 L542.72 1387.64 L544.92 1385.44 L546.02 1353.49 L548.23 1336.96 L550.43 1334.76 L553.74 1335.86 L554.84 1361.20 L557.04 1362.30 L558.14 1378.83 L560.35 1376.62 L563.65 1375.52 L564.76 1374.86 L565.86 1383.23 L569.16 1386.54 L573.57 1390.95 L577.98 1391.61 L582.38 1389.85 L589.00 1387.64 L593.40 1386.54 L597.81 1387.20 L601.12 1386.54 L602.22 1375.52 L606.62 1375.52 L611.03 1375.52 L612.13 1386.54 L615.44 1387.20 L619.85 1390.95 L624.25 1387.20 L628.66 1386.54 L633.07 1384.34 L637.47 1386.54 L644.09 1385.44 L648.49 1384.34 L652.90 1385.44 L659.51 1388.74 L668.33 1389.85 L674.94 1385.44 L679.34 1383.23 L681.55 1376.62 L684.85 1373.32 L688.16 1375.52 L690.36 1377.73 L692.57 1388.74 L696.97 1382.13 L700.28 1381.03 L702.48 1376.62 L704.68 1374.42 L706.89 1377.73 L709.09 1381.03 L711.30 1385.44 L713.50 1388.74 L721.21 1389.85 L727.82 1389.85 L728.92 1385.44 L736.64 1385.44 L738.84 1388.74 L743.25 1391.61 L747.66 1389.85 L754.27 1388.74 L760.88 1389.85 L769.69 1390.29 L778.51 1390.29 L782.91 1390.95 L791.73 1388.74 L792.83 1386.54 L798.34 1386.54 L800.54 1384.34 L802.75 1386.54 L807.15 1385.88 L813.76 1386.54 L822.58 1388.08 L829.19 1390.95 L835.80 1392.05 L842.41 1391.61 L844.61 1387.64 L847.26 1386.54 L847.26 1391.60 Z" fill="#3f1819" clip-path="url(#pinkclip)"/>
<line x1="108.00" y1="1391.90" x2="847.30" y2="1391.90" stroke="#2a2424" stroke-width="1.40"/>
<path d="M108.22 1539.80 L108.22 1539.85 L109.32 1531.47 L114.83 1531.03 L118.14 1529.93 L119.24 1536.54 L125.85 1535.44 L129.16 1534.34 L130.26 1532.13 L133.56 1531.03 L137.97 1532.13 L139.07 1536.54 L145.68 1537.20 L147.89 1534.34 L152.29 1534.34 L156.70 1535.44 L161.11 1535.44 L163.31 1533.23 L166.62 1531.03 L168.16 1505.69 L171.02 1506.79 L172.13 1509.00 L174.33 1507.89 L177.64 1509.00 L178.30 1523.32 L180.94 1523.32 L183.14 1526.62 L184.91 1517.81 L186.45 1485.86 L187.55 1494.67 L191.96 1495.77 L194.16 1496.88 L195.93 1515.61 L197.47 1539.85 L200.77 1539.85 L202.98 1535.44 L211.79 1535.44 L215.10 1536.54 L218.40 1536.54 L222.81 1537.20 L227.22 1539.41 L231.62 1537.64 L238.23 1536.54 L249.25 1536.54 L255.86 1536.54 L262.47 1537.64 L265.78 1526.62 L269.09 1524.86 L273.49 1525.52 L274.59 1534.34 L277.90 1534.34 L280.10 1526.62 L286.71 1526.62 L288.92 1526.62 L290.02 1513.84 L294.43 1513.40 L297.29 1515.61 L298.83 1531.03 L301.04 1537.64 L305.45 1536.54 L306.55 1526.62 L310.95 1524.86 L313.16 1521.78 L315.36 1522.22 L316.46 1529.93 L319.77 1531.03 L321.97 1537.20 L326.38 1535.44 L328.58 1526.62 L331.89 1513.40 L334.09 1500.18 L336.30 1501.28 L337.40 1511.20 L340.70 1514.50 L341.80 1522.22 L344.01 1537.64 L348.42 1536.54 L350.62 1535.44 L351.72 1518.91 L355.03 1517.81 L359.43 1520.01 L360.54 1523.32 L362.74 1531.03 L364.94 1526.62 L366.49 1472.64 L372.66 1471.97 L374.86 1478.14 L375.96 1526.62 L378.16 1536.54 L381.47 1533.23 L384.78 1500.18 L388.08 1478.14 L391.39 1473.30 L393.59 1478.14 L395.79 1500.18 L398.00 1524.42 L401.30 1537.64 L403.51 1536.54 L407.91 1535.44 L409.68 1504.59 L413.42 1505.69 L417.83 1506.79 L418.93 1537.64 L423.34 1536.54 L427.75 1534.34 L431.05 1534.34 L434.36 1536.54 L440.97 1537.64 L443.17 1528.83 L446.48 1521.12 L449.78 1520.01 L451.99 1528.83 L455.29 1529.93 L457.49 1537.20 L459.70 1522.22 L460.80 1495.77 L465.21 1495.77 L468.51 1504.59 L469.61 1537.64 L474.02 1537.20 L478.81 1536.54 L483.22 1536.54 L487.63 1537.64 L492.04 1538.74 L496.44 1537.64 L497.55 1452.80 L500.85 1451.70 L502.61 1443.99 L505.26 1442.89 L507.02 1442.89 L507.46 1524.42 L509.67 1523.32 L511.43 1525.52 L512.31 1511.20 L515.17 1509.00 L518.48 1510.10 L520.24 1513.40 L521.78 1534.34 L525.09 1535.44 L528.40 1538.74 L531.70 1537.20 L536.11 1534.34 L540.52 1529.93 L543.82 1524.42 L546.02 1513.40 L547.57 1445.09 L549.33 1403.22 L551.97 1397.71 L553.74 1398.81 L555.50 1412.04 L557.04 1415.34 L558.14 1526.62 L559.91 1499.08 L562.55 1501.28 L565.20 1502.38 L568.06 1506.79 L569.16 1531.03 L573.57 1538.08 L577.98 1538.74 L582.38 1537.20 L585.69 1535.44 L586.79 1525.52 L591.20 1524.86 L595.61 1526.62 L596.71 1536.54 L600.01 1533.23 L602.22 1522.22 L605.52 1520.01 L608.83 1522.22 L611.03 1531.03 L615.44 1535.44 L619.85 1537.64 L623.15 1531.03 L625.35 1502.38 L628.66 1500.18 L631.97 1499.08 L633.07 1502.38 L634.17 1526.62 L637.47 1533.23 L641.88 1535.44 L646.29 1533.23 L647.39 1504.59 L650.70 1503.49 L654.00 1503.49 L656.87 1506.79 L657.75 1532.13 L661.71 1533.23 L667.22 1533.23 L669.43 1527.73 L672.73 1526.62 L676.04 1525.52 L677.14 1515.61 L679.34 1517.81 L681.55 1495.77 L683.75 1491.37 L685.95 1495.77 L688.16 1504.59 L690.36 1505.69 L691.46 1533.23 L694.77 1535.44 L696.97 1517.81 L701.38 1516.71 L704.68 1515.61 L705.79 1516.71 L706.89 1528.83 L710.19 1528.83 L715.70 1529.93 L716.80 1535.44 L721.21 1535.44 L725.62 1534.34 L728.92 1534.34 L730.03 1500.18 L733.33 1501.28 L737.74 1503.49 L738.84 1534.34 L743.25 1535.44 L747.66 1533.23 L749.86 1525.52 L754.27 1523.98 L758.67 1523.32 L759.78 1534.34 L763.08 1536.54 L769.69 1537.20 L778.51 1537.64 L787.32 1537.20 L791.73 1536.54 L792.83 1525.52 L798.34 1525.52 L801.64 1526.18 L802.75 1533.23 L807.15 1533.23 L810.46 1534.34 L812.66 1528.83 L815.97 1524.42 L818.17 1524.42 L821.48 1524.86 L822.58 1534.34 L826.99 1537.64 L833.60 1539.85 L842.41 1539.41 L844.61 1534.34 L845.72 1525.52 L847.26 1525.52 L847.26 1539.80 Z" fill="url(#hat)"/>
<path d="M108.22 1539.80 L108.22 1539.85 L109.32 1531.47 L114.83 1531.03 L118.14 1529.93 L119.24 1536.54 L125.85 1535.44 L129.16 1534.34 L130.26 1532.13 L133.56 1531.03 L137.97 1532.13 L139.07 1536.54 L145.68 1537.20 L147.89 1534.34 L152.29 1534.34 L156.70 1535.44 L161.11 1535.44 L163.31 1533.23 L166.62 1531.03 L168.16 1505.69 L171.02 1506.79 L172.13 1509.00 L174.33 1507.89 L177.64 1509.00 L178.30 1523.32 L180.94 1523.32 L183.14 1526.62 L184.91 1517.81 L186.45 1485.86 L187.55 1494.67 L191.96 1495.77 L194.16 1496.88 L195.93 1515.61 L197.47 1539.85 L200.77 1539.85 L202.98 1535.44 L211.79 1535.44 L215.10 1536.54 L218.40 1536.54 L222.81 1537.20 L227.22 1539.41 L231.62 1537.64 L238.23 1536.54 L249.25 1536.54 L255.86 1536.54 L262.47 1537.64 L265.78 1526.62 L269.09 1524.86 L273.49 1525.52 L274.59 1534.34 L277.90 1534.34 L280.10 1526.62 L286.71 1526.62 L288.92 1526.62 L290.02 1513.84 L294.43 1513.40 L297.29 1515.61 L298.83 1531.03 L301.04 1537.64 L305.45 1536.54 L306.55 1526.62 L310.95 1524.86 L313.16 1521.78 L315.36 1522.22 L316.46 1529.93 L319.77 1531.03 L321.97 1537.20 L326.38 1535.44 L328.58 1526.62 L331.89 1513.40 L334.09 1500.18 L336.30 1501.28 L337.40 1511.20 L340.70 1514.50 L341.80 1522.22 L344.01 1537.64 L348.42 1536.54 L350.62 1535.44 L351.72 1518.91 L355.03 1517.81 L359.43 1520.01 L360.54 1523.32 L362.74 1531.03 L364.94 1526.62 L366.49 1472.64 L372.66 1471.97 L374.86 1478.14 L375.96 1526.62 L378.16 1536.54 L381.47 1533.23 L384.78 1500.18 L388.08 1478.14 L391.39 1473.30 L393.59 1478.14 L395.79 1500.18 L398.00 1524.42 L401.30 1537.64 L403.51 1536.54 L407.91 1535.44 L409.68 1504.59 L413.42 1505.69 L417.83 1506.79 L418.93 1537.64 L423.34 1536.54 L427.75 1534.34 L431.05 1534.34 L434.36 1536.54 L440.97 1537.64 L443.17 1528.83 L446.48 1521.12 L449.78 1520.01 L451.99 1528.83 L455.29 1529.93 L457.49 1537.20 L459.70 1522.22 L460.80 1495.77 L465.21 1495.77 L468.51 1504.59 L469.61 1537.64 L474.02 1537.20 L478.81 1536.54 L483.22 1536.54 L487.63 1537.64 L492.04 1538.74 L496.44 1537.64 L497.55 1452.80 L500.85 1451.70 L502.61 1443.99 L505.26 1442.89 L507.02 1442.89 L507.46 1524.42 L509.67 1523.32 L511.43 1525.52 L512.31 1511.20 L515.17 1509.00 L518.48 1510.10 L520.24 1513.40 L521.78 1534.34 L525.09 1535.44 L528.40 1538.74 L531.70 1537.20 L536.11 1534.34 L540.52 1529.93 L543.82 1524.42 L546.02 1513.40 L547.57 1445.09 L549.33 1403.22 L551.97 1397.71 L553.74 1398.81 L555.50 1412.04 L557.04 1415.34 L558.14 1526.62 L559.91 1499.08 L562.55 1501.28 L565.20 1502.38 L568.06 1506.79 L569.16 1531.03 L573.57 1538.08 L577.98 1538.74 L582.38 1537.20 L585.69 1535.44 L586.79 1525.52 L591.20 1524.86 L595.61 1526.62 L596.71 1536.54 L600.01 1533.23 L602.22 1522.22 L605.52 1520.01 L608.83 1522.22 L611.03 1531.03 L615.44 1535.44 L619.85 1537.64 L623.15 1531.03 L625.35 1502.38 L628.66 1500.18 L631.97 1499.08 L633.07 1502.38 L634.17 1526.62 L637.47 1533.23 L641.88 1535.44 L646.29 1533.23 L647.39 1504.59 L650.70 1503.49 L654.00 1503.49 L656.87 1506.79 L657.75 1532.13 L661.71 1533.23 L667.22 1533.23 L669.43 1527.73 L672.73 1526.62 L676.04 1525.52 L677.14 1515.61 L679.34 1517.81 L681.55 1495.77 L683.75 1491.37 L685.95 1495.77 L688.16 1504.59 L690.36 1505.69 L691.46 1533.23 L694.77 1535.44 L696.97 1517.81 L701.38 1516.71 L704.68 1515.61 L705.79 1516.71 L706.89 1528.83 L710.19 1528.83 L715.70 1529.93 L716.80 1535.44 L721.21 1535.44 L725.62 1534.34 L728.92 1534.34 L730.03 1500.18 L733.33 1501.28 L737.74 1503.49 L738.84 1534.34 L743.25 1535.44 L747.66 1533.23 L749.86 1525.52 L754.27 1523.98 L758.67 1523.32 L759.78 1534.34 L763.08 1536.54 L769.69 1537.20 L778.51 1537.64 L787.32 1537.20 L791.73 1536.54 L792.83 1525.52 L798.34 1525.52 L801.64 1526.18 L802.75 1533.23 L807.15 1533.23 L810.46 1534.34 L812.66 1528.83 L815.97 1524.42 L818.17 1524.42 L821.48 1524.86 L822.58 1534.34 L826.99 1537.64 L833.60 1539.85 L842.41 1539.41 L844.61 1534.34 L845.72 1525.52 L847.26 1525.52 L847.26 1539.80 Z" fill="#3f1819" clip-path="url(#pinkclip)"/>
<line x1="108.00" y1="1540.10" x2="847.30" y2="1540.10" stroke="#2a2424" stroke-width="1.40"/>
<path d="M108.22 1689.40 L108.22 1689.41 L109.32 1685.44 L117.04 1684.34 L118.14 1685.44 L125.85 1685.44 L128.05 1681.03 L129.16 1659.00 L132.46 1657.89 L135.77 1659.00 L137.97 1664.50 L139.07 1686.54 L142.38 1687.20 L147.89 1685.44 L154.50 1684.34 L161.11 1685.44 L165.52 1684.34 L167.72 1645.77 L171.02 1646.88 L174.33 1645.77 L177.64 1647.98 L178.30 1678.83 L180.94 1677.73 L183.14 1678.83 L185.35 1636.96 L187.55 1638.06 L191.96 1639.16 L194.16 1641.37 L195.93 1672.22 L197.47 1687.20 L202.98 1685.44 L211.79 1685.00 L218.40 1685.44 L221.71 1686.54 L227.22 1689.41 L231.62 1687.20 L238.23 1686.54 L249.25 1686.54 L258.07 1686.54 L262.47 1684.34 L266.88 1672.22 L269.09 1666.71 L271.29 1670.01 L274.59 1672.22 L276.80 1677.73 L277.90 1681.03 L280.10 1675.52 L284.51 1677.06 L288.92 1674.42 L293.33 1673.32 L296.63 1674.42 L298.83 1683.23 L301.04 1688.08 L306.55 1681.03 L310.95 1677.73 L313.16 1664.50 L315.36 1665.61 L316.46 1673.32 L319.77 1670.01 L321.97 1684.34 L325.28 1685.44 L327.48 1677.73 L330.79 1676.62 L332.99 1663.40 L334.75 1654.59 L336.30 1655.69 L337.40 1665.61 L340.70 1666.71 L341.80 1685.44 L346.21 1686.54 L350.62 1676.62 L351.72 1663.40 L357.23 1664.50 L359.43 1676.62 L360.54 1675.52 L362.74 1686.54 L364.94 1681.03 L366.49 1596.19 L373.76 1595.09 L374.86 1606.11 L375.96 1685.44 L380.37 1686.54 L382.57 1678.83 L385.88 1650.18 L389.18 1610.52 L392.49 1603.90 L394.69 1610.52 L396.90 1634.76 L400.20 1656.79 L401.30 1689.41 L403.51 1681.03 L407.91 1679.93 L409.01 1664.50 L413.42 1665.61 L417.83 1667.81 L418.93 1687.64 L423.34 1685.44 L427.75 1684.34 L432.15 1685.44 L438.76 1687.20 L442.07 1675.52 L445.37 1670.01 L448.68 1666.71 L450.88 1670.01 L453.09 1681.03 L456.39 1683.23 L459.70 1671.12 L463.00 1670.01 L467.41 1671.12 L469.61 1676.62 L470.72 1687.64 L476.61 1685.44 L481.02 1685.00 L485.43 1684.34 L488.73 1686.54 L494.24 1689.41 L496.44 1685.44 L498.21 1612.72 L500.85 1606.11 L503.05 1600.60 L506.36 1599.06 L507.46 1672.22 L509.67 1672.22 L511.43 1674.42 L512.31 1659.00 L515.17 1656.79 L518.48 1657.89 L520.68 1663.40 L522.45 1683.23 L526.19 1686.54 L530.60 1688.74 L532.80 1681.03 L536.11 1676.62 L539.41 1672.22 L542.72 1676.62 L546.02 1652.38 L548.23 1579.67 L549.77 1555.43 L551.97 1553.22 L553.74 1557.63 L555.50 1577.46 L557.04 1584.07 L558.14 1676.62 L560.35 1663.40 L562.55 1661.20 L564.76 1661.20 L566.96 1665.61 L569.16 1666.71 L570.26 1683.23 L573.57 1687.64 L577.98 1689.41 L582.38 1687.64 L586.79 1676.62 L590.10 1675.52 L594.50 1676.62 L596.71 1685.44 L600.01 1681.03 L602.22 1673.32 L606.62 1673.32 L608.83 1674.42 L611.03 1681.03 L615.44 1685.44 L619.85 1688.08 L623.15 1681.03 L625.35 1671.12 L628.66 1665.61 L631.97 1661.20 L633.07 1659.00 L634.17 1672.22 L637.47 1674.42 L640.78 1676.62 L642.98 1682.13 L646.29 1676.62 L647.39 1660.10 L650.70 1660.10 L654.00 1662.30 L656.87 1667.81 L657.75 1681.03 L661.71 1681.03 L667.22 1682.13 L669.43 1677.73 L672.73 1675.52 L676.04 1674.42 L677.14 1661.20 L680.45 1663.40 L681.55 1636.96 L683.75 1623.74 L685.95 1632.55 L688.16 1641.37 L690.36 1643.57 L691.46 1683.23 L694.77 1685.44 L696.97 1672.22 L700.28 1667.81 L704.68 1666.71 L705.79 1666.71 L706.89 1677.73 L710.19 1681.03 L714.60 1683.23 L716.80 1686.54 L721.21 1686.54 L725.62 1685.00 L728.92 1685.44 L730.03 1655.69 L733.33 1653.49 L737.74 1653.49 L738.84 1683.23 L743.25 1684.34 L747.66 1684.34 L749.86 1676.62 L754.27 1672.22 L758.67 1670.01 L759.78 1678.83 L763.08 1682.13 L767.49 1685.44 L774.10 1688.08 L778.51 1689.41 L787.32 1688.08 L791.73 1687.20 L792.83 1671.12 L798.34 1671.12 L800.54 1668.91 L801.64 1681.03 L807.15 1682.13 L811.56 1684.34 L813.76 1684.34 L822.58 1685.00 L824.78 1688.08 L833.60 1689.41 L842.41 1689.41 L844.61 1685.44 L845.72 1681.03 L847.26 1681.03 L847.26 1689.40 Z" fill="url(#hat4)"/>
<path d="M108.22 1689.40 L108.22 1689.41 L109.32 1685.44 L117.04 1684.34 L118.14 1685.44 L125.85 1685.44 L128.05 1681.03 L129.16 1659.00 L132.46 1657.89 L135.77 1659.00 L137.97 1664.50 L139.07 1686.54 L142.38 1687.20 L147.89 1685.44 L154.50 1684.34 L161.11 1685.44 L165.52 1684.34 L167.72 1645.77 L171.02 1646.88 L174.33 1645.77 L177.64 1647.98 L178.30 1678.83 L180.94 1677.73 L183.14 1678.83 L185.35 1636.96 L187.55 1638.06 L191.96 1639.16 L194.16 1641.37 L195.93 1672.22 L197.47 1687.20 L202.98 1685.44 L211.79 1685.00 L218.40 1685.44 L221.71 1686.54 L227.22 1689.41 L231.62 1687.20 L238.23 1686.54 L249.25 1686.54 L258.07 1686.54 L262.47 1684.34 L266.88 1672.22 L269.09 1666.71 L271.29 1670.01 L274.59 1672.22 L276.80 1677.73 L277.90 1681.03 L280.10 1675.52 L284.51 1677.06 L288.92 1674.42 L293.33 1673.32 L296.63 1674.42 L298.83 1683.23 L301.04 1688.08 L306.55 1681.03 L310.95 1677.73 L313.16 1664.50 L315.36 1665.61 L316.46 1673.32 L319.77 1670.01 L321.97 1684.34 L325.28 1685.44 L327.48 1677.73 L330.79 1676.62 L332.99 1663.40 L334.75 1654.59 L336.30 1655.69 L337.40 1665.61 L340.70 1666.71 L341.80 1685.44 L346.21 1686.54 L350.62 1676.62 L351.72 1663.40 L357.23 1664.50 L359.43 1676.62 L360.54 1675.52 L362.74 1686.54 L364.94 1681.03 L366.49 1596.19 L373.76 1595.09 L374.86 1606.11 L375.96 1685.44 L380.37 1686.54 L382.57 1678.83 L385.88 1650.18 L389.18 1610.52 L392.49 1603.90 L394.69 1610.52 L396.90 1634.76 L400.20 1656.79 L401.30 1689.41 L403.51 1681.03 L407.91 1679.93 L409.01 1664.50 L413.42 1665.61 L417.83 1667.81 L418.93 1687.64 L423.34 1685.44 L427.75 1684.34 L432.15 1685.44 L438.76 1687.20 L442.07 1675.52 L445.37 1670.01 L448.68 1666.71 L450.88 1670.01 L453.09 1681.03 L456.39 1683.23 L459.70 1671.12 L463.00 1670.01 L467.41 1671.12 L469.61 1676.62 L470.72 1687.64 L476.61 1685.44 L481.02 1685.00 L485.43 1684.34 L488.73 1686.54 L494.24 1689.41 L496.44 1685.44 L498.21 1612.72 L500.85 1606.11 L503.05 1600.60 L506.36 1599.06 L507.46 1672.22 L509.67 1672.22 L511.43 1674.42 L512.31 1659.00 L515.17 1656.79 L518.48 1657.89 L520.68 1663.40 L522.45 1683.23 L526.19 1686.54 L530.60 1688.74 L532.80 1681.03 L536.11 1676.62 L539.41 1672.22 L542.72 1676.62 L546.02 1652.38 L548.23 1579.67 L549.77 1555.43 L551.97 1553.22 L553.74 1557.63 L555.50 1577.46 L557.04 1584.07 L558.14 1676.62 L560.35 1663.40 L562.55 1661.20 L564.76 1661.20 L566.96 1665.61 L569.16 1666.71 L570.26 1683.23 L573.57 1687.64 L577.98 1689.41 L582.38 1687.64 L586.79 1676.62 L590.10 1675.52 L594.50 1676.62 L596.71 1685.44 L600.01 1681.03 L602.22 1673.32 L606.62 1673.32 L608.83 1674.42 L611.03 1681.03 L615.44 1685.44 L619.85 1688.08 L623.15 1681.03 L625.35 1671.12 L628.66 1665.61 L631.97 1661.20 L633.07 1659.00 L634.17 1672.22 L637.47 1674.42 L640.78 1676.62 L642.98 1682.13 L646.29 1676.62 L647.39 1660.10 L650.70 1660.10 L654.00 1662.30 L656.87 1667.81 L657.75 1681.03 L661.71 1681.03 L667.22 1682.13 L669.43 1677.73 L672.73 1675.52 L676.04 1674.42 L677.14 1661.20 L680.45 1663.40 L681.55 1636.96 L683.75 1623.74 L685.95 1632.55 L688.16 1641.37 L690.36 1643.57 L691.46 1683.23 L694.77 1685.44 L696.97 1672.22 L700.28 1667.81 L704.68 1666.71 L705.79 1666.71 L706.89 1677.73 L710.19 1681.03 L714.60 1683.23 L716.80 1686.54 L721.21 1686.54 L725.62 1685.00 L728.92 1685.44 L730.03 1655.69 L733.33 1653.49 L737.74 1653.49 L738.84 1683.23 L743.25 1684.34 L747.66 1684.34 L749.86 1676.62 L754.27 1672.22 L758.67 1670.01 L759.78 1678.83 L763.08 1682.13 L767.49 1685.44 L774.10 1688.08 L778.51 1689.41 L787.32 1688.08 L791.73 1687.20 L792.83 1671.12 L798.34 1671.12 L800.54 1668.91 L801.64 1681.03 L807.15 1682.13 L811.56 1684.34 L813.76 1684.34 L822.58 1685.00 L824.78 1688.08 L833.60 1689.41 L842.41 1689.41 L844.61 1685.44 L845.72 1681.03 L847.26 1681.03 L847.26 1689.40 Z" fill="#2a0909" clip-path="url(#pinkclip)"/>
<line x1="108.00" y1="1689.70" x2="847.30" y2="1689.70" stroke="#2a2424" stroke-width="1.40"/>
<line x1="99.50" y1="1094.50" x2="847.60" y2="1094.50" stroke="#7d7575" stroke-width="1.60"/>
<line x1="99.50" y1="1245.20" x2="847.60" y2="1245.20" stroke="#857d7b" stroke-width="1.80"/>
<line x1="99.50" y1="1396.40" x2="847.60" y2="1396.40" stroke="#2a2020" stroke-width="1.50"/>
<line x1="99.50" y1="1547.70" x2="847.60" y2="1547.70" stroke="#2a2020" stroke-width="1.60"/>
<line x1="99.50" y1="1699.00" x2="847.60" y2="1699.00" stroke="#807878" stroke-width="1.60"/>
<line x1="99.50" y1="1094.50" x2="99.50" y2="1699.00" stroke="#5a5050" stroke-width="1.40"/>
<line x1="847.60" y1="1094.50" x2="847.60" y2="1699.00" stroke="#8a8282" stroke-width="1.50"/>
<line x1="109.00" y1="1699.00" x2="109.00" y2="1703.00" stroke="#999" stroke-width="1.20"/>
<line x1="762.00" y1="1699.00" x2="762.00" y2="1703.00" stroke="#999" stroke-width="1.20"/>
<text x="107.06" y="1123.50" style="font-size:21.30px;" fill="#231f20" textLength="63.94" lengthAdjust="spacingAndGlyphs">[0-156]</text>
<text x="107.84" y="1272.60" style="font-size:21.30px;" fill="#231f20" textLength="76.41" lengthAdjust="spacingAndGlyphs">[0-1791]</text>
<text x="107.84" y="1423.00" style="font-size:21.30px;" fill="#231f20" textLength="76.41" lengthAdjust="spacingAndGlyphs">[0-1000]</text>
<text x="107.83" y="1572.60" style="font-size:21.30px;" fill="#231f20" textLength="65.41" lengthAdjust="spacingAndGlyphs">[0-800]</text>
<text x="739.75" y="1131.80" style="font-size:32.80px;" fill="#231f20" textLength="79.92" lengthAdjust="spacingAndGlyphs">eIF3a</text>
<text x="739.73" y="1279.70" style="font-size:32.80px;" fill="#231f20" textLength="81.21" lengthAdjust="spacingAndGlyphs">eIF3b</text>
<text x="739.72" y="1430.00" style="font-size:32.80px;" fill="#231f20" textLength="82.04" lengthAdjust="spacingAndGlyphs">eIF3d</text>
<text x="739.72" y="1584.00" style="font-size:32.80px;" fill="#231f20" textLength="82.04" lengthAdjust="spacingAndGlyphs">eIF3g</text>
<line x1="382.90" y1="1699.00" x2="382.90" y2="1708.00" stroke="#d7181f" stroke-width="2.60"/>
<circle cx="382.90" cy="1716.30" r="11.00" fill="#d7181f"/>
<text x="347.11" y="1754.30" style="font-size:30.50px;font-weight:bold;" fill="#d7181f" textLength="75.78" lengthAdjust="spacingAndGlyphs">A332</text>
<line x1="512.80" y1="1699.00" x2="512.80" y2="1708.00" stroke="#d7181f" stroke-width="2.60"/>
<circle cx="512.80" cy="1716.30" r="11.00" fill="#d7181f"/>
<text x="477.52" y="1754.30" style="font-size:30.50px;font-weight:bold;" fill="#d7181f" textLength="74.28" lengthAdjust="spacingAndGlyphs">A495</text>
<line x1="597.90" y1="1699.00" x2="597.90" y2="1708.00" stroke="#d7181f" stroke-width="2.60"/>
<circle cx="597.90" cy="1716.30" r="11.00" fill="#d7181f"/>
<text x="562.52" y="1754.30" style="font-size:30.50px;font-weight:bold;" fill="#d7181f" textLength="74.75" lengthAdjust="spacingAndGlyphs">A600</text>
<line x1="1101.80" y1="1049.00" x2="1101.80" y2="1480.20" stroke="#231f20" stroke-width="2.40"/>
<line x1="1090.00" y1="1479.00" x2="1101.80" y2="1479.00" stroke="#231f20" stroke-width="2.40"/>
<text x="1028.91" y="1488.30" style="font-size:27.80px;" fill="#231f20" textLength="57.66" lengthAdjust="spacingAndGlyphs">0.00</text>
<line x1="1090.00" y1="1381.80" x2="1101.80" y2="1381.80" stroke="#231f20" stroke-width="2.40"/>
<text x="1028.91" y="1391.10" style="font-size:27.80px;" fill="#231f20" textLength="57.82" lengthAdjust="spacingAndGlyphs">0.05</text>
<line x1="1090.00" y1="1284.60" x2="1101.80" y2="1284.60" stroke="#231f20" stroke-width="2.40"/>
<text x="1028.91" y="1293.90" style="font-size:27.80px;" fill="#231f20" textLength="57.66" lengthAdjust="spacingAndGlyphs">0.10</text>
<line x1="1090.00" y1="1187.40" x2="1101.80" y2="1187.40" stroke="#231f20" stroke-width="2.40"/>
<text x="1028.91" y="1196.70" style="font-size:27.80px;" fill="#231f20" textLength="57.82" lengthAdjust="spacingAndGlyphs">0.15</text>
<line x1="1090.00" y1="1090.20" x2="1101.80" y2="1090.20" stroke="#231f20" stroke-width="2.40"/>
<text x="1028.91" y="1099.50" style="font-size:27.80px;" fill="#231f20" textLength="57.66" lengthAdjust="spacingAndGlyphs">0.20</text>
<line x1="1100.60" y1="1479.00" x2="1745.50" y2="1479.00" stroke="#231f20" stroke-width="2.60"/>
<line x1="1151.50" y1="1479.00" x2="1151.50" y2="1491.50" stroke="#231f20" stroke-width="2.60"/>
<line x1="1259.00" y1="1479.00" x2="1259.00" y2="1491.50" stroke="#231f20" stroke-width="2.60"/>
<line x1="1367.00" y1="1479.00" x2="1367.00" y2="1491.50" stroke="#231f20" stroke-width="2.60"/>
<line x1="1474.30" y1="1479.00" x2="1474.30" y2="1491.50" stroke="#231f20" stroke-width="2.60"/>
<line x1="1581.30" y1="1479.00" x2="1581.30" y2="1491.50" stroke="#231f20" stroke-width="2.60"/>
<line x1="1688.00" y1="1479.00" x2="1688.00" y2="1491.50" stroke="#231f20" stroke-width="2.60"/>
<rect x="1223.00" y="1463.30" width="29.60" height="15.70" fill="#fff" stroke="#000" stroke-width="3"/>
<rect x="1267.20" y="1452.30" width="28.80" height="26.70" fill="#a6a6aa" stroke="#000" stroke-width="3"/>
<rect x="1481.60" y="1466.20" width="28.90" height="12.80" fill="#a6a6aa" stroke="#000" stroke-width="3"/>
<rect x="1545.90" y="1217.50" width="29.40" height="261.50" fill="#fff" stroke="#000" stroke-width="3"/>
<rect x="1589.20" y="1233.50" width="29.30" height="245.50" fill="#a6a6aa" stroke="#000" stroke-width="3"/>
<rect x="1653.40" y="1330.60" width="29.40" height="148.40" fill="#fff" stroke="#000" stroke-width="3"/>
<rect x="1696.70" y="1433.40" width="28.80" height="45.60" fill="#a6a6aa" stroke="#000" stroke-width="3"/>
<line x1="1237.90" y1="1447.30" x2="1237.90" y2="1463.30" stroke="#000" stroke-width="2.80"/>
<line x1="1230.90" y1="1447.30" x2="1244.90" y2="1447.30" stroke="#000" stroke-width="2.80"/>
<line x1="1230.90" y1="1463.30" x2="1244.90" y2="1463.30" stroke="#000" stroke-width="2.80"/>
<line x1="1281.50" y1="1425.50" x2="1281.50" y2="1452.30" stroke="#000" stroke-width="2.80"/>
<line x1="1274.50" y1="1425.50" x2="1288.50" y2="1425.50" stroke="#000" stroke-width="2.80"/>
<line x1="1274.50" y1="1452.30" x2="1288.50" y2="1452.30" stroke="#000" stroke-width="2.80"/>
<line x1="1496.00" y1="1452.50" x2="1496.00" y2="1466.20" stroke="#000" stroke-width="2.80"/>
<line x1="1489.00" y1="1452.50" x2="1503.00" y2="1452.50" stroke="#000" stroke-width="2.80"/>
<line x1="1489.00" y1="1466.20" x2="1503.00" y2="1466.20" stroke="#000" stroke-width="2.80"/>
<line x1="1560.30" y1="1176.40" x2="1560.30" y2="1257.70" stroke="#000" stroke-width="2.80"/>
<line x1="1553.30" y1="1176.40" x2="1567.30" y2="1176.40" stroke="#000" stroke-width="2.80"/>
<line x1="1553.30" y1="1257.70" x2="1567.30" y2="1257.70" stroke="#000" stroke-width="2.80"/>
<line x1="1603.60" y1="1173.20" x2="1603.60" y2="1293.10" stroke="#000" stroke-width="2.80"/>
<line x1="1596.60" y1="1173.20" x2="1610.60" y2="1173.20" stroke="#000" stroke-width="2.80"/>
<line x1="1596.60" y1="1293.10" x2="1610.60" y2="1293.10" stroke="#000" stroke-width="2.80"/>
<line x1="1667.80" y1="1292.30" x2="1667.80" y2="1369.70" stroke="#000" stroke-width="2.80"/>
<line x1="1660.80" y1="1292.30" x2="1674.80" y2="1292.30" stroke="#000" stroke-width="2.80"/>
<line x1="1660.80" y1="1369.70" x2="1674.80" y2="1369.70" stroke="#000" stroke-width="2.80"/>
<line x1="1711.10" y1="1419.50" x2="1711.10" y2="1447.00" stroke="#000" stroke-width="2.80"/>
<line x1="1704.10" y1="1419.50" x2="1718.10" y2="1419.50" stroke="#000" stroke-width="2.80"/>
<line x1="1704.10" y1="1447.00" x2="1718.10" y2="1447.00" stroke="#000" stroke-width="2.80"/>
<circle cx="1120.50" cy="1479.00" r="3.90" fill="#000"/>
<circle cx="1127.10" cy="1479.00" r="3.90" fill="#000"/>
<circle cx="1133.40" cy="1479.00" r="3.90" fill="#000"/>
<circle cx="1139.80" cy="1479.00" r="3.90" fill="#000"/>
<circle cx="1163.90" cy="1479.00" r="3.90" fill="#000"/>
<circle cx="1170.50" cy="1479.00" r="3.90" fill="#000"/>
<circle cx="1176.80" cy="1479.00" r="3.90" fill="#000"/>
<circle cx="1183.20" cy="1479.00" r="3.90" fill="#000"/>
<circle cx="1230.80" cy="1479.00" r="3.90" fill="#000"/>
<circle cx="1237.90" cy="1479.00" r="3.90" fill="#000"/>
<circle cx="1244.20" cy="1479.00" r="3.90" fill="#000"/>
<circle cx="1274.70" cy="1479.00" r="3.90" fill="#000"/>
<circle cx="1281.30" cy="1479.00" r="3.90" fill="#000"/>
<circle cx="1287.60" cy="1479.00" r="3.90" fill="#000"/>
<circle cx="1335.20" cy="1479.00" r="3.90" fill="#000"/>
<circle cx="1341.80" cy="1479.00" r="3.90" fill="#000"/>
<circle cx="1348.20" cy="1479.00" r="3.90" fill="#000"/>
<circle cx="1378.70" cy="1479.00" r="3.90" fill="#000"/>
<circle cx="1385.20" cy="1479.00" r="3.90" fill="#000"/>
<circle cx="1391.60" cy="1479.00" r="3.90" fill="#000"/>
<circle cx="1443.00" cy="1479.00" r="3.90" fill="#000"/>
<circle cx="1450.20" cy="1479.00" r="3.90" fill="#000"/>
<circle cx="1456.70" cy="1479.00" r="3.90" fill="#000"/>
<circle cx="1462.50" cy="1479.00" r="3.90" fill="#000"/>
<circle cx="1488.70" cy="1479.00" r="3.90" fill="#000"/>
<circle cx="1496.00" cy="1479.00" r="3.90" fill="#000"/>
<circle cx="1502.60" cy="1479.00" r="3.90" fill="#000"/>
<circle cx="1355.20" cy="1477.40" r="3.90" fill="#000"/>
<circle cx="1398.10" cy="1477.00" r="3.90" fill="#000"/>
<circle cx="1237.40" cy="1415.70" r="3.90" fill="#000"/>
<circle cx="1281.30" cy="1370.60" r="3.90" fill="#000"/>
<circle cx="1496.00" cy="1425.50" r="3.90" fill="#000"/>
<circle cx="1560.30" cy="1120.00" r="3.90" fill="#000"/>
<circle cx="1560.30" cy="1179.80" r="3.90" fill="#000"/>
<circle cx="1560.30" cy="1279.40" r="3.90" fill="#000"/>
<circle cx="1560.30" cy="1288.60" r="3.90" fill="#000"/>
<circle cx="1603.60" cy="1053.60" r="3.90" fill="#000"/>
<circle cx="1603.60" cy="1279.40" r="3.90" fill="#000"/>
<circle cx="1603.60" cy="1286.50" r="3.90" fill="#000"/>
<circle cx="1603.60" cy="1312.70" r="3.90" fill="#000"/>
<circle cx="1667.80" cy="1241.90" r="3.90" fill="#000"/>
<circle cx="1667.80" cy="1290.50" r="3.90" fill="#000"/>
<circle cx="1667.80" cy="1388.80" r="3.90" fill="#000"/>
<circle cx="1667.80" cy="1401.90" r="3.90" fill="#000"/>
<circle cx="1711.10" cy="1392.20" r="3.90" fill="#000"/>
<circle cx="1707.50" cy="1443.90" r="3.90" fill="#000"/>
<circle cx="1714.50" cy="1443.90" r="3.90" fill="#000"/>
<circle cx="1711.10" cy="1452.30" r="3.90" fill="#000"/>
<path d="M1667.8 1218.5 L1667.8 1213.6 L1713 1213.6 L1713 1218.5" fill="none" stroke="#231f20" stroke-width="2.6"/>
<text x="1683.34" y="1213.00" style="font-size:33.00px;" fill="#231f20" textLength="11.89" lengthAdjust="spacingAndGlyphs">*</text>
<rect x="1128.3" y="1077" width="44.7" height="23" fill="#fff" stroke="#000" stroke-width="3"/>
<rect x="1128.3" y="1132.5" width="44.7" height="22" fill="#a6a6aa" stroke="#000" stroke-width="3"/>
<text x="1187.53" y="1099.40" style="font-size:30.50px;" fill="#231f20" textLength="92.01" lengthAdjust="spacingAndGlyphs">pL1Hs</text>
<text x="1187.63" y="1157.20" style="font-size:30.50px;" fill="#231f20" textLength="179.00" lengthAdjust="spacingAndGlyphs">pL1 m<tspan dy="-11" style="font-size:20px">6</tspan><tspan dy="11">A mut</tspan></text>
<text transform="rotate(-90)" x="-1416.94" y="967.80" style="font-size:32.80px;" fill="#231f20" textLength="279.96" lengthAdjust="spacingAndGlyphs">mRNA enrichment</text>
<text transform="rotate(-90)" x="-1347.49" y="1008.50" style="font-size:34.50px;" fill="#231f20" textLength="141.15" lengthAdjust="spacingAndGlyphs">(IP/input)</text>
<text transform="rotate(-90)" x="-1611.39" y="1159.80" style="font-size:34.20px;font-style:italic;" fill="#231f20" textLength="111.40" lengthAdjust="spacingAndGlyphs">PSMB6</text>
<text transform="rotate(-90)" x="-1595.19" y="1266.60" style="font-size:34.00px;font-style:italic;" fill="#231f20" textLength="91.50" lengthAdjust="spacingAndGlyphs">c-JUN</text>
<text transform="rotate(-90)" x="-1654.57" y="1373.20" style="font-size:34.00px;" fill="#231f20" textLength="163.33" lengthAdjust="spacingAndGlyphs">L1 reporter</text>
<text transform="rotate(-90)" x="-1611.39" y="1482.30" style="font-size:34.20px;font-style:italic;" fill="#231f20" textLength="111.40" lengthAdjust="spacingAndGlyphs">PSMB6</text>
<text transform="rotate(-90)" x="-1595.19" y="1589.10" style="font-size:34.00px;font-style:italic;" fill="#231f20" textLength="91.50" lengthAdjust="spacingAndGlyphs">c-JUN</text>
<text transform="rotate(-90)" x="-1654.57" y="1695.70" style="font-size:34.00px;" fill="#231f20" textLength="163.33" lengthAdjust="spacingAndGlyphs">L1 reporter</text>
<line x1="1137.80" y1="1671.40" x2="1378.30" y2="1671.40" stroke="#231f20" stroke-width="2.40"/>
<line x1="1459.80" y1="1671.40" x2="1700.30" y2="1671.40" stroke="#231f20" stroke-width="2.40"/>
<text x="1210.47" y="1710.20" style="font-size:32.00px;" fill="#231f20" textLength="100.46" lengthAdjust="spacingAndGlyphs">IgG-IP</text>
<text x="1510.55" y="1710.20" style="font-size:32.00px;" fill="#231f20" textLength="129.85" lengthAdjust="spacingAndGlyphs">eIF3b-IP</text></svg></body></html>
